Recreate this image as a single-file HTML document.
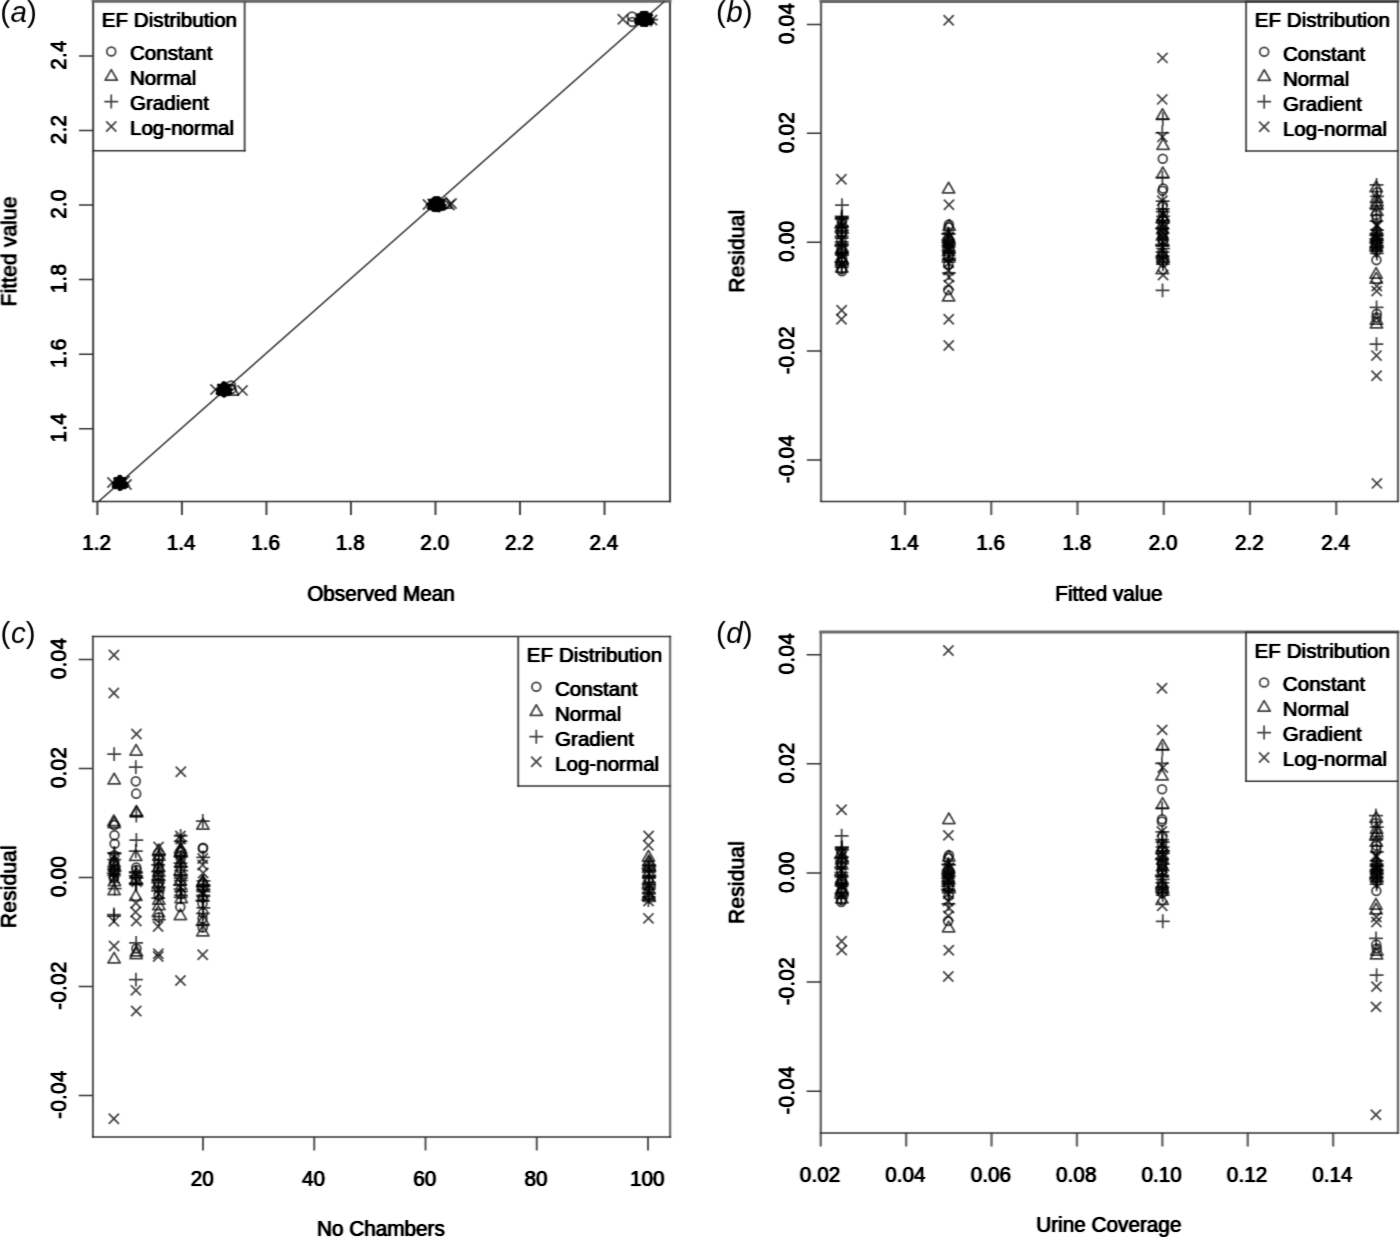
<!DOCTYPE html>
<html lang="en"><head><meta charset="utf-8"><title>Model diagnostics: fitted values and residuals</title>
<style>html,body{margin:0;padding:0;background:#fff}body{width:1400px;height:1237px;overflow:hidden}svg{display:block}text{font-family:'Liberation Sans', Arial, Helvetica, sans-serif;fill:#000;stroke:#000;stroke-width:0.2;stroke-linejoin:round}text.pl{stroke:none}</style></head><body>
<svg width="1400" height="1237" viewBox="0 0 1400 1237">
<rect width="1400" height="1237" fill="#fff"/>
<filter id="soft" filterUnits="userSpaceOnUse" x="-10" y="-10" width="1420" height="1257" color-interpolation-filters="sRGB"><feConvolveMatrix order="3 3" kernelMatrix="0.0228 0.0744 0.0228  0.1444 0.4712 0.1444  0.0228 0.0744 0.0228" divisor="1" edgeMode="none" preserveAlpha="false"/></filter>
<filter id="tx" filterUnits="userSpaceOnUse" x="-10" y="-10" width="1420" height="1257" color-interpolation-filters="sRGB"><feConvolveMatrix order="5 3" kernelMatrix="0.0028 0.0175 0.0324 0.0175 0.0028  0.0325 0.2050 0.3792 0.2050 0.0325  0.0028 0.0175 0.0324 0.0175 0.0028" divisor="1" edgeMode="none" preserveAlpha="false"/><feComponentTransfer><feFuncA type="linear" slope="1.45" intercept="0"/></feComponentTransfer></filter>
<filter id="lb" filterUnits="userSpaceOnUse" x="-10" y="-10" width="1420" height="1257" color-interpolation-filters="sRGB"><feConvolveMatrix order="3 3" kernelMatrix="0.0100 0.0800 0.0100  0.0800 0.6400 0.0800  0.0100 0.0800 0.0100" divisor="1" edgeMode="none" preserveAlpha="false"/></filter>
<g filter="url(#soft)">
<g id="panel-a">
<path fill="none" stroke="#404040" stroke-width="2.0" d="M670 0.6V502.2"/>
<path fill="none" stroke="#404040" stroke-width="2.0" d="M93.15 0.6V502.2M97.4 501.5V515M181.92 501.5V515M266.44 501.5V515M350.96 501.5V515M435.48 501.5V515M520 501.5V515M604.52 501.5V515"/>
<path fill="none" stroke="#666" stroke-width="3.2" d="M91.65 1.1H671.5"/>
<path fill="none" stroke="#323232" stroke-width="1.5" d="M92.15 501.5H671M93.15 428.7H78.95M93.15 354.14H78.95M93.15 279.58H78.95M93.15 205.02H78.95M93.15 130.46H78.95M93.15 55.9H78.95"/>
<clipPath id="ca"><rect x="93.15" y="1.3" width="576.85" height="500.2"/></clipPath>
<g clip-path="url(#ca)" fill="none" stroke="#000" stroke-width="1.75" stroke-linejoin="round" stroke-opacity="0.74">
<path d="M90 509.1L672 -5.3" stroke="#2e2e2e" stroke-opacity="1" stroke-width="1.45"/>
<circle cx="121.28" cy="483.56" r="4.41"/>
<path d="M120.88 475.93L127.02 486.56L114.74 486.56Z"/>
<path d="M112.21 483.28H126.07M119.14 476.35V490.21"/>
<path d="M115.02 477.86L125.21 488.05M115.02 488.05L125.21 477.86"/>
<circle cx="121.23" cy="483.96" r="4.41"/>
<path d="M121.16 476.53L127.3 487.16L115.02 487.16Z"/>
<path d="M112.6 482.55H126.46M119.53 475.62V489.48"/>
<path d="M115.17 478.01L125.36 488.21M115.17 488.21L125.36 478.01"/>
<circle cx="120.01" cy="483.18" r="4.41"/>
<path d="M120.73 476.44L126.87 487.07L114.59 487.07Z"/>
<path d="M114.3 483.33H128.16M121.23 476.4V490.26"/>
<path d="M116 477.99L126.19 488.18M116 488.18L126.19 477.99"/>
<circle cx="119.16" cy="483.13" r="4.41"/>
<path d="M120.03 475.95L126.17 486.58L113.89 486.58Z"/>
<path d="M112.47 484H126.33M119.4 477.07V490.93"/>
<path d="M115.13 478.36L125.32 488.55M115.13 488.55L125.32 478.36"/>
<circle cx="120.01" cy="483.18" r="4.41"/>
<path d="M118.72 475.84L124.86 486.47L112.58 486.47Z"/>
<path d="M112.95 483.5H126.8M119.88 476.57V490.43"/>
<path d="M115.22 477.88L125.41 488.08M115.22 488.08L125.41 477.88"/>
<circle cx="119.01" cy="483.13" r="4.41"/>
<path d="M120.81 476.18L126.95 486.81L114.67 486.81Z"/>
<path d="M112.91 483.1H126.77M119.84 476.18V490.03"/>
<path d="M115.48 478.79L125.67 488.98M115.48 488.98L125.67 478.79"/>
<circle cx="119.8" cy="483.09" r="4.41"/>
<path d="M120.12 476.48L126.25 487.11L113.98 487.11Z"/>
<path d="M112.43 483.5H126.29M119.36 476.57V490.43"/>
<path d="M114.48 477.58L124.67 487.77M114.48 487.77L124.67 477.58"/>
<circle cx="119.48" cy="483.47" r="4.41"/>
<path d="M120.66 476.13L126.8 486.76L114.53 486.76Z"/>
<path d="M113.24 483.09H127.1M120.17 476.16V490.02"/>
<path d="M114.37 478.11L124.56 488.3M114.37 488.3L124.56 478.11"/>
<circle cx="120.05" cy="482.97" r="4.41"/>
<path d="M119.39 476.17L125.52 486.8L113.25 486.8Z"/>
<path d="M113.37 483.09H127.22M120.3 476.16V490.02"/>
<path d="M114.12 477.77L124.31 487.96M114.12 487.96L124.31 477.77"/>
<circle cx="120.73" cy="482.96" r="4.41"/>
<path d="M120.23 476.05L126.37 486.68L114.09 486.68Z"/>
<path d="M111.79 482.76H125.65M118.72 475.83V489.69"/>
<path d="M115.07 478.13L125.26 488.32M115.07 488.32L125.26 478.13"/>
<circle cx="119.32" cy="482.99" r="4.41"/>
<path d="M119.87 475.9L126.01 486.53L113.74 486.53Z"/>
<path d="M111.87 483.37H125.73M118.8 476.44V490.3"/>
<path d="M114.75 478.26L124.94 488.45M114.75 488.45L124.94 478.26"/>
<circle cx="120.42" cy="483.3" r="4.41"/>
<path d="M120.42 476.59L126.56 487.22L114.29 487.22Z"/>
<path d="M112.18 483.14H126.04M119.11 476.21V490.07"/>
<path d="M114.42 478.62L124.61 488.82M114.42 488.82L124.61 478.62"/>
<circle cx="121.23" cy="482.34" r="4.41"/>
<path d="M119.64 476.17L125.78 486.8L113.5 486.8Z"/>
<path d="M113.36 483.27H127.22M120.29 476.34V490.2"/>
<path d="M113.62 478.45L123.82 488.65M113.62 488.65L123.82 478.45"/>
<circle cx="118.75" cy="482.98" r="4.41"/>
<path d="M119 476.52L125.14 487.15L112.86 487.15Z"/>
<path d="M112.55 483.79H126.41M119.48 476.86V490.72"/>
<path d="M115.97 478.39L126.16 488.58M115.97 488.58L126.16 478.39"/>
<circle cx="120.33" cy="483.61" r="4.41"/>
<path d="M119.33 476.22L125.47 486.85L113.2 486.85Z"/>
<path d="M113 482.8H126.86M119.93 475.87V489.73"/>
<path d="M114.5 477.91L124.69 488.1M114.5 488.1L124.69 477.91"/>
<circle cx="119.43" cy="482.95" r="4.41"/>
<path d="M119.37 476.39L125.5 487.02L113.23 487.02Z"/>
<path d="M113.16 483.08H127.02M120.09 476.15V490.01"/>
<path d="M115 478.22L125.19 488.41M115 488.41L125.19 478.22"/>
<circle cx="119.4" cy="483" r="4.41"/>
<path d="M118.99 476.86L125.13 487.49L112.85 487.49Z"/>
<path d="M114.35 483.36H128.21M121.28 476.43V490.29"/>
<path d="M114.23 477.37L124.42 487.56M114.23 487.56L124.42 477.37"/>
<circle cx="119.62" cy="483.74" r="4.41"/>
<path d="M118.81 475.76L124.94 486.39L112.67 486.39Z"/>
<path d="M113.35 483.16H127.21M120.28 476.23V490.09"/>
<path d="M115.08 477.96L125.27 488.15M115.08 488.15L125.27 477.96"/>
<circle cx="119.81" cy="482.82" r="4.41"/>
<path d="M120.23 475.5L126.37 486.13L114.1 486.13Z"/>
<path d="M114.33 482.87H128.19M121.26 475.94V489.8"/>
<path d="M115.53 478.41L125.73 488.6M115.53 488.6L125.73 478.41"/>
<circle cx="121.28" cy="483.24" r="4.41"/>
<path d="M119.6 476.62L125.73 487.25L113.46 487.25Z"/>
<path d="M113.41 483.41H127.27M120.34 476.48V490.34"/>
<path d="M115.48 477.81L125.67 488M115.48 488L125.67 477.81"/>
<circle cx="120.23" cy="482.74" r="4.41"/>
<path d="M119.2 476.09L125.34 486.72L113.07 486.72Z"/>
<path d="M113.51 483.5H127.37M120.44 476.57V490.43"/>
<path d="M114.36 477.78L124.55 487.97M114.36 487.97L124.55 477.78"/>
<circle cx="119.54" cy="483.14" r="4.41"/>
<path d="M119.66 476.19L125.8 486.82L113.52 486.82Z"/>
<path d="M114.08 483.41H127.94M121.01 476.49V490.34"/>
<path d="M115.12 478.46L125.31 488.65M115.12 488.65L125.31 478.46"/>
<circle cx="121.28" cy="483.13" r="4.41"/>
<path d="M120.2 476.28L126.34 486.91L114.06 486.91Z"/>
<path d="M111.79 483.38H125.65M118.72 476.45V490.31"/>
<path d="M115 478.54L125.19 488.73M115 488.73L125.19 478.54"/>
<circle cx="120.2" cy="482.62" r="4.41"/>
<path d="M120.12 475.83L126.26 486.46L113.99 486.46Z"/>
<path d="M112.95 483.47H126.81M119.88 476.54V490.4"/>
<path d="M114.89 478.38L125.08 488.57M114.89 488.57L125.08 478.38"/>
<circle cx="119.52" cy="483.28" r="4.41"/>
<path d="M120.06 476.4L126.2 487.03L113.92 487.03Z"/>
<path d="M113.5 483.08H127.36M120.43 476.15V490.01"/>
<path d="M115.46 478.21L125.66 488.4M115.46 488.4L125.66 478.21"/>
<circle cx="120.02" cy="483.63" r="4.41"/>
<path d="M119.78 475.98L125.92 486.61L113.65 486.61Z"/>
<path d="M112.86 483.22H126.72M119.79 476.29V490.15"/>
<path d="M116.18 478.12L126.38 488.32M116.18 488.32L126.38 478.12"/>
<circle cx="120.1" cy="483.58" r="4.41"/>
<path d="M118.85 476.62L124.99 487.25L112.71 487.25Z"/>
<path d="M113.1 483.31H126.96M120.03 476.38V490.24"/>
<path d="M113.69 477.72L123.88 487.91M113.69 487.91L123.88 477.72"/>
<circle cx="120.11" cy="483.33" r="4.41"/>
<path d="M119.5 476.1L125.64 486.73L113.36 486.73Z"/>
<path d="M107.4 477.4L117.6 487.6M107.4 487.6L117.6 477.4"/>
<path d="M121.4 479.4L131.6 489.6M121.4 489.6L131.6 479.4"/>
<path d="M119.4 475.9L129.6 486.1M119.4 486.1L129.6 475.9"/>
<circle cx="222.62" cy="389.44" r="4.41"/>
<path d="M223.94 382.68L230.08 393.31L217.81 393.31Z"/>
<path d="M216.05 389.38H229.91M222.98 382.45V396.31"/>
<path d="M218.74 384.78L228.93 394.97M218.74 394.97L228.93 384.78"/>
<circle cx="223.84" cy="389.89" r="4.41"/>
<path d="M224.28 382.71L230.42 393.34L218.14 393.34Z"/>
<path d="M216.82 389.03H230.68M223.75 382.1V395.96"/>
<path d="M219.64 384.11L229.83 394.3M219.64 394.3L229.83 384.11"/>
<circle cx="223.19" cy="389.98" r="4.41"/>
<path d="M223.71 382.62L229.85 393.25L217.57 393.25Z"/>
<path d="M218.22 389.88H232.08M225.15 382.95V396.81"/>
<path d="M217.89 384.74L228.08 394.93M217.89 394.93L228.08 384.74"/>
<circle cx="224.42" cy="389.3" r="4.41"/>
<path d="M224.7 383.07L230.83 393.7L218.56 393.7Z"/>
<path d="M216.49 389.51H230.35M223.42 382.58V396.44"/>
<path d="M218.51 385.74L228.7 395.93M218.51 395.93L228.7 385.74"/>
<circle cx="223.49" cy="389.48" r="4.41"/>
<path d="M225.57 382.9L231.71 393.53L219.43 393.53Z"/>
<path d="M217.84 389.56H231.7M224.77 382.63V396.49"/>
<path d="M220.5 384.77L230.7 394.96M220.5 394.96L230.7 384.77"/>
<circle cx="224.46" cy="389.32" r="4.41"/>
<path d="M223.21 382.94L229.35 393.57L217.07 393.57Z"/>
<path d="M218.07 389.67H231.93M225 382.74V396.6"/>
<path d="M219.18 384.85L229.37 395.04M219.18 395.04L229.37 384.85"/>
<circle cx="225.11" cy="390.05" r="4.41"/>
<path d="M222.86 383.17L229 393.8L216.73 393.8Z"/>
<path d="M217.29 389.88H231.15M224.22 382.95V396.81"/>
<path d="M220.04 385.2L230.23 395.39M220.04 395.39L230.23 385.2"/>
<circle cx="222.96" cy="390.08" r="4.41"/>
<path d="M225.47 382.46L231.6 393.09L219.33 393.09Z"/>
<path d="M217.51 390.09H231.37M224.44 383.16V397.01"/>
<path d="M219.23 384.89L229.42 395.08M219.23 395.08L229.42 384.89"/>
<circle cx="224.9" cy="389.94" r="4.41"/>
<path d="M224.04 382.09L230.18 392.72L217.9 392.72Z"/>
<path d="M217.36 389.52H231.22M224.29 382.59V396.45"/>
<path d="M219.06 384.61L229.25 394.81M219.06 394.81L229.25 384.61"/>
<circle cx="224.74" cy="389.64" r="4.41"/>
<path d="M222.89 382.4L229.03 393.03L216.75 393.03Z"/>
<path d="M218.42 390.09H232.28M225.35 383.16V397.01"/>
<path d="M218.11 384.02L228.3 394.21M218.11 394.21L228.3 384.02"/>
<circle cx="222.75" cy="389.27" r="4.41"/>
<path d="M223 382.38L229.14 393.01L216.86 393.01Z"/>
<path d="M217.45 390.17H231.31M224.38 383.24V397.1"/>
<path d="M218.64 384.66L228.83 394.86M218.64 394.86L228.83 384.66"/>
<circle cx="224.54" cy="389.72" r="4.41"/>
<path d="M223.64 382.87L229.78 393.5L217.5 393.5Z"/>
<path d="M218.67 389.68H232.53M225.6 382.75V396.61"/>
<path d="M219.64 385.38L229.83 395.58M219.64 395.58L229.83 385.38"/>
<circle cx="224.82" cy="389.36" r="4.41"/>
<path d="M223.56 382.44L229.7 393.07L217.43 393.07Z"/>
<path d="M216.22 390.05H230.08M223.15 383.12V396.98"/>
<path d="M219.92 384.21L230.11 394.4M219.92 394.4L230.11 384.21"/>
<circle cx="223.49" cy="389.56" r="4.41"/>
<path d="M224 383.06L230.14 393.69L217.87 393.69Z"/>
<path d="M216.27 390.11H230.13M223.2 383.18V397.04"/>
<path d="M218.94 384.73L229.13 394.92M218.94 394.92L229.13 384.73"/>
<circle cx="225.11" cy="389.77" r="4.41"/>
<path d="M222.69 382.87L228.83 393.5L216.55 393.5Z"/>
<path d="M217.87 389.2H231.73M224.8 382.27V396.13"/>
<path d="M219.28 384.38L229.47 394.57M219.28 394.57L229.47 384.38"/>
<circle cx="224.86" cy="389.94" r="4.41"/>
<path d="M222.81 383.19L228.94 393.82L216.67 393.82Z"/>
<path d="M215.61 389.79H229.47M222.54 382.86V396.72"/>
<path d="M219.42 384.75L229.61 394.94M219.42 394.94L229.61 384.75"/>
<circle cx="224.77" cy="389.66" r="4.41"/>
<path d="M223.92 382.57L230.06 393.2L217.79 393.2Z"/>
<path d="M217.1 389.06H230.96M224.03 382.13V395.99"/>
<path d="M217.9 384.2L228.09 394.39M217.9 394.39L228.09 384.2"/>
<circle cx="224.37" cy="389.82" r="4.41"/>
<path d="M222.84 382.36L228.98 392.99L216.7 392.99Z"/>
<path d="M217.48 389.92H231.34M224.41 382.99V396.85"/>
<path d="M219.52 384.51L229.72 394.71M219.52 394.71L229.72 384.51"/>
<circle cx="224.67" cy="389.22" r="4.41"/>
<path d="M223.38 382.2L229.51 392.83L217.24 392.83Z"/>
<path d="M217.41 390.45H231.27M224.34 383.52V397.38"/>
<path d="M218.32 384.53L228.51 394.73M218.32 394.73L228.51 384.53"/>
<circle cx="223.38" cy="390.23" r="4.41"/>
<path d="M224.91 382.5L231.05 393.13L218.78 393.13Z"/>
<path d="M217 390.7H230.86M223.93 383.77V397.63"/>
<path d="M217.58 384.76L227.77 394.95M217.58 394.95L227.77 384.76"/>
<circle cx="223.45" cy="389.63" r="4.41"/>
<path d="M223.54 382.88L229.67 393.51L217.4 393.51Z"/>
<path d="M215.9 390.08H229.76M222.83 383.15V397.01"/>
<path d="M218.75 385.01L228.94 395.2M218.75 395.2L228.94 385.01"/>
<circle cx="222.73" cy="390.23" r="4.41"/>
<path d="M223.85 383.31L229.98 393.94L217.71 393.94Z"/>
<path d="M218.67 390.01H232.53M225.6 383.08V396.94"/>
<path d="M219.98 384.62L230.17 394.81M219.98 394.81L230.17 384.62"/>
<circle cx="222.49" cy="389.73" r="4.41"/>
<path d="M224.61 382.55L230.74 393.18L218.47 393.18Z"/>
<path d="M215.47 389.65H229.33M222.4 382.72V396.58"/>
<path d="M218.83 384.37L229.02 394.56M218.83 394.56L229.02 384.37"/>
<circle cx="223.32" cy="390.04" r="4.41"/>
<path d="M224.54 382.96L230.68 393.59L218.41 393.59Z"/>
<path d="M217.7 389.92H231.56M224.63 382.99V396.85"/>
<path d="M217.3 384.12L227.5 394.31M217.3 394.31L227.5 384.12"/>
<circle cx="223.65" cy="390.2" r="4.41"/>
<path d="M223.04 383.56L229.18 394.19L216.9 394.19Z"/>
<path d="M218.65 389.22H232.5M225.58 382.29V396.14"/>
<path d="M220.19 384.36L230.38 394.55M220.19 394.55L230.38 384.36"/>
<circle cx="223.99" cy="389.55" r="4.41"/>
<path d="M223.64 383.19L229.78 393.82L217.51 393.82Z"/>
<path d="M216.24 389.96H230.1M223.17 383.04V396.89"/>
<path d="M220.01 384.82L230.2 395.02M220.01 395.02L230.2 384.82"/>
<circle cx="223.77" cy="389.73" r="4.41"/>
<path d="M225.22 382.87L231.36 393.5L219.08 393.5Z"/>
<path d="M216.67 390.2H230.53M223.6 383.27V397.13"/>
<path d="M217.9 384.63L228.09 394.82M217.9 394.82L228.09 384.63"/>
<circle cx="223.83" cy="389.98" r="4.41"/>
<path d="M222.75 383.2L228.88 393.83L216.61 393.83Z"/>
<path d="M237.4 385.3L247.6 395.5M237.4 395.5L247.6 385.3"/>
<path d="M210.4 384.4L220.6 394.6M210.4 394.6L220.6 384.4"/>
<path d="M232.5 384.41L238.64 395.04L226.36 395.04Z"/>
<circle cx="231" cy="385.5" r="4.41"/>
<circle cx="231.5" cy="389" r="4.41"/>
<circle cx="436.48" cy="204.75" r="4.41"/>
<path d="M437.3 197.09L443.43 207.72L431.16 207.72Z"/>
<path d="M428.68 204.74H442.54M435.61 197.81V211.67"/>
<path d="M433.02 200.01L443.21 210.2M433.02 210.2L443.21 200.01"/>
<circle cx="435.85" cy="205.33" r="4.41"/>
<path d="M436.97 197.59L443.1 208.22L430.83 208.22Z"/>
<path d="M431.19 204.03H445.05M438.12 197.1V210.96"/>
<path d="M429.03 199.35L439.22 209.54M429.03 209.54L439.22 199.35"/>
<circle cx="434.36" cy="204.45" r="4.41"/>
<path d="M435.1 197.62L441.24 208.25L428.96 208.25Z"/>
<path d="M430.08 204.7H443.94M437.01 197.77V211.63"/>
<path d="M432.47 199.64L442.66 209.83M432.47 209.83L442.66 199.64"/>
<circle cx="438.68" cy="205.35" r="4.41"/>
<path d="M438.48 197.91L444.61 208.54L432.34 208.54Z"/>
<path d="M428.64 204.51H442.5M435.57 197.58V211.44"/>
<path d="M429.14 199.82L439.33 210.02M429.14 210.02L439.33 199.82"/>
<circle cx="434.5" cy="204.31" r="4.41"/>
<path d="M433.93 197.86L440.06 208.49L427.79 208.49Z"/>
<path d="M428.65 204.69H442.5M435.58 197.76V211.62"/>
<path d="M427.6 198.81L437.8 209M427.6 209L437.8 198.81"/>
<circle cx="435.93" cy="204.31" r="4.41"/>
<path d="M434.42 197.53L440.55 208.16L428.28 208.16Z"/>
<path d="M425.77 205H439.63M432.7 198.07V211.93"/>
<path d="M433.76 199.85L443.95 210.04M433.76 210.04L443.95 199.85"/>
<circle cx="439.35" cy="205.75" r="4.41"/>
<path d="M436.09 198.12L442.23 208.75L429.96 208.75Z"/>
<path d="M432.38 205.22H446.24M439.31 198.29V212.15"/>
<path d="M434.8 199.22L445 209.42M434.8 209.42L445 199.22"/>
<circle cx="436.25" cy="204.81" r="4.41"/>
<path d="M434.32 197.22L440.46 207.85L428.18 207.85Z"/>
<path d="M427.62 203.98H441.48M434.55 197.05V210.91"/>
<path d="M432.85 199.55L443.04 209.74M432.85 209.74L443.04 199.55"/>
<circle cx="439.9" cy="204.38" r="4.41"/>
<path d="M438.35 197.83L444.48 208.46L432.21 208.46Z"/>
<path d="M431.47 205.36H445.32M438.39 198.43V212.29"/>
<path d="M431.94 199.41L442.13 209.6M431.94 209.6L442.13 199.41"/>
<circle cx="438.7" cy="205.35" r="4.41"/>
<path d="M437.01 197.94L443.15 208.57L430.87 208.57Z"/>
<path d="M427.8 204.5H441.66M434.73 197.57V211.43"/>
<path d="M433.9 198.97L444.09 209.16M433.9 209.16L444.09 198.97"/>
<circle cx="439.9" cy="204.62" r="4.41"/>
<path d="M434.1 197.52L440.24 208.15L427.96 208.15Z"/>
<path d="M429.15 204.69H443.01M436.08 197.76V211.62"/>
<path d="M434.8 199.75L445 209.94M434.8 209.94L445 199.75"/>
<circle cx="436.72" cy="205.42" r="4.41"/>
<path d="M436.79 197.28L442.92 207.91L430.65 207.91Z"/>
<path d="M427.15 204.47H441.01M434.08 197.54V211.4"/>
<path d="M431.45 199.68L441.64 209.88M431.45 209.88L441.64 199.68"/>
<circle cx="438.43" cy="205.02" r="4.41"/>
<path d="M439.2 198.43L445.33 209.06L433.06 209.06Z"/>
<path d="M429.22 204.62H443.08M436.15 197.69V211.55"/>
<path d="M433.06 199.99L443.25 210.18M433.06 210.18L443.25 199.99"/>
<circle cx="437.02" cy="204.73" r="4.41"/>
<path d="M439.9 197.81L446.04 208.44L433.76 208.44Z"/>
<path d="M429.47 204.47H443.33M436.4 197.54V211.4"/>
<path d="M433.58 199.48L443.77 209.67M433.58 209.67L443.77 199.48"/>
<circle cx="434.19" cy="204.08" r="4.41"/>
<path d="M436.41 197.06L442.55 207.69L430.28 207.69Z"/>
<path d="M428.25 204.88H442.11M435.18 197.95V211.81"/>
<path d="M431.36 199.69L441.55 209.88M431.36 209.88L441.55 199.69"/>
<circle cx="439.9" cy="204.46" r="4.41"/>
<path d="M436.32 197.46L442.46 208.09L430.18 208.09Z"/>
<path d="M429.4 204.2H443.25M436.33 197.28V211.13"/>
<path d="M430.15 199.63L440.34 209.82M430.15 209.82L440.34 199.63"/>
<circle cx="437.05" cy="204.21" r="4.41"/>
<path d="M435.8 197.92L441.94 208.55L429.66 208.55Z"/>
<path d="M429.24 205.02H443.1M436.17 198.1V211.95"/>
<path d="M431.77 199.56L441.97 209.75M431.77 209.75L441.97 199.56"/>
<circle cx="436.57" cy="203.93" r="4.41"/>
<path d="M436.63 197.14L442.76 207.77L430.49 207.77Z"/>
<path d="M427.74 204.74H441.6M434.67 197.81V211.67"/>
<path d="M431.11 198.99L441.3 209.18M431.11 209.18L441.3 198.99"/>
<circle cx="438.67" cy="204.78" r="4.41"/>
<path d="M438.13 197.84L444.27 208.47L432 208.47Z"/>
<path d="M431.84 204.83H445.7M438.77 197.91V211.76"/>
<path d="M430.37 198.96L440.56 209.16M430.37 209.16L440.56 198.96"/>
<circle cx="434.83" cy="204.57" r="4.41"/>
<path d="M434.06 197.78L440.2 208.41L427.92 208.41Z"/>
<path d="M428.58 205.27H442.43M435.51 198.34V212.2"/>
<path d="M432.95 199.71L443.14 209.9M432.95 209.9L443.14 199.71"/>
<circle cx="438.84" cy="205.01" r="4.41"/>
<path d="M438.68 196.8L444.82 207.43L432.55 207.43Z"/>
<path d="M425.77 204.22H439.63M432.7 197.29V211.15"/>
<path d="M428.59 199.56L438.78 209.75M428.59 209.75L438.78 199.56"/>
<circle cx="438.29" cy="205.24" r="4.41"/>
<path d="M437.64 197.52L443.78 208.15L431.51 208.15Z"/>
<path d="M431.76 205.41H445.62M438.69 198.48V212.34"/>
<path d="M431.45 199.2L441.64 209.39M431.45 209.39L441.64 199.2"/>
<circle cx="438.86" cy="204.67" r="4.41"/>
<path d="M437.71 197.8L443.85 208.43L431.57 208.43Z"/>
<path d="M432.97 205.15H446.83M439.9 198.22V212.08"/>
<path d="M433.78 199.24L443.97 209.43M433.78 209.43L443.97 199.24"/>
<circle cx="433.76" cy="204.94" r="4.41"/>
<path d="M435.12 197.83L441.26 208.46L428.98 208.46Z"/>
<path d="M427.11 204.89H440.97M434.04 197.96V211.82"/>
<path d="M433.91 200.48L444.1 210.67M433.91 210.67L444.1 200.48"/>
<circle cx="433.03" cy="204.08" r="4.41"/>
<path d="M438.18 197.95L444.31 208.58L432.04 208.58Z"/>
<path d="M428.35 204.26H442.21M435.28 197.33V211.19"/>
<path d="M433.78 199.7L443.98 209.89M433.78 209.89L443.98 199.7"/>
<circle cx="432.7" cy="204.6" r="4.41"/>
<path d="M433.88 197.75L440.02 208.38L427.74 208.38Z"/>
<path d="M428.38 205.05H442.24M435.31 198.12V211.98"/>
<path d="M430.63 199.35L440.82 209.55M430.63 209.55L440.82 199.35"/>
<circle cx="436.51" cy="205.01" r="4.41"/>
<path d="M434.37 197.19L440.51 207.82L428.23 207.82Z"/>
<path d="M427.79 204.69H441.65M434.72 197.76V211.62"/>
<path d="M431.32 198.95L441.51 209.14M431.32 209.14L441.51 198.95"/>
<circle cx="433.93" cy="204.32" r="4.41"/>
<path d="M439.47 197.52L445.6 208.15L433.33 208.15Z"/>
<path d="M427.89 204.5H441.75M434.82 197.58V211.43"/>
<path d="M431.64 200.47L441.83 210.67M431.64 210.67L441.83 200.47"/>
<circle cx="436.03" cy="205.57" r="4.41"/>
<path d="M437.5 197.61L443.64 208.24L431.36 208.24Z"/>
<path d="M428.65 204.51H442.51M435.58 197.58V211.44"/>
<path d="M431.86 199.77L442.06 209.96M431.86 209.96L442.06 199.77"/>
<circle cx="435.76" cy="204.98" r="4.41"/>
<path d="M436.16 197.78L442.29 208.41L430.02 208.41Z"/>
<path d="M430.75 204.55H444.61M437.68 197.62V211.48"/>
<path d="M432.88 199.35L443.07 209.54M432.88 209.54L443.07 199.35"/>
<circle cx="439.9" cy="204.75" r="4.41"/>
<path d="M434.99 197.71L441.13 208.34L428.86 208.34Z"/>
<path d="M431.03 204.66H444.89M437.96 197.74V211.59"/>
<path d="M432.73 199.64L442.92 209.83M432.73 209.83L442.92 199.64"/>
<circle cx="436.28" cy="204.66" r="4.41"/>
<path d="M436.49 198.3L442.63 208.93L430.35 208.93Z"/>
<path d="M428.57 204.26H442.43M435.5 197.33V211.19"/>
<path d="M428.88 199.06L439.07 209.26M428.88 209.26L439.07 199.06"/>
<circle cx="434.87" cy="204.26" r="4.41"/>
<path d="M438.36 197.26L444.5 207.89L432.22 207.89Z"/>
<path d="M428.12 204.57H441.98M435.05 197.64V211.5"/>
<path d="M431.63 199.77L441.83 209.96M431.63 209.96L441.83 199.77"/>
<circle cx="434.89" cy="204.81" r="4.41"/>
<path d="M435.01 196.91L441.14 207.54L428.87 207.54Z"/>
<path d="M429.47 205.05H443.33M436.4 198.12V211.98"/>
<path d="M430.93 199.41L441.12 209.6M430.93 209.6L441.12 199.41"/>
<circle cx="437.64" cy="204.37" r="4.41"/>
<path d="M439.9 197.7L446.04 208.33L433.76 208.33Z"/>
<path d="M426.45 204.64H440.31M433.38 197.71V211.57"/>
<path d="M434.17 199.07L444.36 209.26M434.17 209.26L444.36 199.07"/>
<path d="M444.4 199.9L454.6 210.1M444.4 210.1L454.6 199.9"/>
<path d="M446.4 198.4L456.6 208.6M446.4 208.6L456.6 198.4"/>
<path d="M422.9 199.4L433.1 209.6M422.9 209.6L433.1 199.4"/>
<path d="M446 197.41L452.14 208.04L439.86 208.04Z"/>
<circle cx="644.18" cy="19.35" r="4.41"/>
<path d="M646.24 11.55L652.37 22.18L640.1 22.18Z"/>
<path d="M638.44 19.46H652.3M645.37 12.54V26.39"/>
<path d="M639.78 14.75L649.97 24.94M639.78 24.94L649.97 14.75"/>
<circle cx="645.45" cy="19.23" r="4.41"/>
<path d="M642.28 12.77L648.42 23.4L636.14 23.4Z"/>
<path d="M636.2 19.36H650.06M643.13 12.43V26.29"/>
<path d="M638.88 14.21L649.08 24.41M638.88 24.41L649.08 14.21"/>
<circle cx="644.76" cy="18.98" r="4.41"/>
<path d="M642.67 12.69L648.8 23.32L636.53 23.32Z"/>
<path d="M634.13 19.58H647.99M641.06 12.66V26.51"/>
<path d="M640.08 14.59L650.27 24.78M640.08 24.78L650.27 14.59"/>
<circle cx="646.95" cy="19.07" r="4.41"/>
<path d="M642.37 11.89L648.5 22.52L636.23 22.52Z"/>
<path d="M637.34 19.64H651.2M644.27 12.71V26.57"/>
<path d="M639.86 14.26L650.06 24.45M639.86 24.45L650.06 14.26"/>
<circle cx="646.48" cy="19.05" r="4.41"/>
<path d="M643.22 11.8L649.36 22.43L637.08 22.43Z"/>
<path d="M638.55 19.49H652.41M645.48 12.56V26.42"/>
<path d="M635.96 14.71L646.16 24.9M635.96 24.9L646.16 14.71"/>
<circle cx="647.54" cy="19.1" r="4.41"/>
<path d="M646.24 12.12L652.38 22.75L640.11 22.75Z"/>
<path d="M639.49 19.99H653.35M646.42 13.06V26.92"/>
<path d="M642.13 14.47L652.32 24.66M642.13 24.66L652.32 14.47"/>
<circle cx="645.2" cy="19.77" r="4.41"/>
<path d="M643.7 11.58L649.83 22.21L637.56 22.21Z"/>
<path d="M638.99 19.71H652.85M645.92 12.78V26.64"/>
<path d="M640.76 13.66L650.95 23.85M640.76 23.85L650.95 13.66"/>
<circle cx="641.06" cy="19.9" r="4.41"/>
<path d="M644.46 11.71L650.6 22.34L638.32 22.34Z"/>
<path d="M637.75 18.91H651.61M644.68 11.98V25.84"/>
<path d="M639.48 13.96L649.67 24.15M639.48 24.15L649.67 13.96"/>
<circle cx="643.52" cy="18.79" r="4.41"/>
<path d="M647 12.16L653.13 22.79L640.86 22.79Z"/>
<path d="M634.14 19.37H647.99M641.06 12.44V26.3"/>
<path d="M639.72 13.89L649.91 24.08M639.72 24.08L649.91 13.89"/>
<circle cx="643.41" cy="19.05" r="4.41"/>
<path d="M641.8 12.26L647.93 22.89L635.66 22.89Z"/>
<path d="M640.61 19.68H654.47M647.54 12.75V26.61"/>
<path d="M640.08 14.45L650.27 24.64M640.08 24.64L650.27 14.45"/>
<circle cx="643.73" cy="19.4" r="4.41"/>
<path d="M642.83 12.09L648.97 22.72L636.7 22.72Z"/>
<path d="M639.44 19.15H653.3M646.37 12.22V26.08"/>
<path d="M637.86 14.59L648.06 24.78M637.86 24.78L648.06 14.59"/>
<circle cx="643.62" cy="19.1" r="4.41"/>
<path d="M645.65 12.34L651.79 22.97L639.51 22.97Z"/>
<path d="M635.53 19.01H649.39M642.46 12.08V25.94"/>
<path d="M639.91 14.03L650.1 24.22M639.91 24.22L650.1 14.03"/>
<circle cx="641.29" cy="19.48" r="4.41"/>
<path d="M644.77 12.56L650.91 23.19L638.63 23.19Z"/>
<path d="M634.96 19.2H648.82M641.89 12.27V26.13"/>
<path d="M637.33 13.31L647.52 23.51M637.33 23.51L647.52 13.31"/>
<circle cx="647.54" cy="19.71" r="4.41"/>
<path d="M641.86 12.06L647.99 22.69L635.72 22.69Z"/>
<path d="M636.76 19.69H650.62M643.69 12.76V26.62"/>
<path d="M639.37 14.34L649.56 24.53M639.37 24.53L649.56 14.34"/>
<circle cx="645.73" cy="18.86" r="4.41"/>
<path d="M644.97 12.33L651.11 22.96L638.83 22.96Z"/>
<path d="M634.43 19.62H648.28M641.35 12.69V26.55"/>
<path d="M636.94 14.28L647.13 24.47M636.94 24.47L647.13 14.28"/>
<circle cx="641.06" cy="19.37" r="4.41"/>
<path d="M643.88 11.96L650.02 22.59L637.75 22.59Z"/>
<path d="M638.62 19.71H652.47M645.54 12.78V26.64"/>
<path d="M639.1 14L649.29 24.19M639.1 24.19L649.29 14"/>
<circle cx="643.11" cy="19.79" r="4.41"/>
<path d="M642.79 12.22L648.93 22.85L636.65 22.85Z"/>
<path d="M635.52 19.38H649.38M642.45 12.45V26.31"/>
<path d="M641.91 14.2L652.1 24.4M641.91 24.4L652.1 14.2"/>
<circle cx="645.02" cy="19.6" r="4.41"/>
<path d="M644.08 12.16L650.22 22.79L637.94 22.79Z"/>
<path d="M640.19 19.46H654.05M647.12 12.53V26.39"/>
<path d="M642.44 14.2L652.64 24.39M642.44 24.39L652.64 14.2"/>
<circle cx="646.02" cy="19.52" r="4.41"/>
<path d="M644.35 12.02L650.48 22.65L638.21 22.65Z"/>
<path d="M637.8 19.65H651.66M644.73 12.72V26.58"/>
<path d="M639.76 14.32L649.96 24.51M639.76 24.51L649.96 14.32"/>
<circle cx="643.41" cy="19.03" r="4.41"/>
<path d="M644.71 11.78L650.85 22.41L638.57 22.41Z"/>
<path d="M638.62 19.15H652.48M645.55 12.22V26.08"/>
<path d="M638.46 14.43L648.65 24.62M638.46 24.62L648.65 14.43"/>
<circle cx="645.71" cy="19.39" r="4.41"/>
<path d="M643.01 12.54L649.15 23.17L636.87 23.17Z"/>
<path d="M634.77 20.17H648.62M641.7 13.24V27.1"/>
<path d="M640.36 13.97L650.55 24.17M640.36 24.17L650.55 13.97"/>
<circle cx="644.9" cy="19.69" r="4.41"/>
<path d="M645.17 12.37L651.31 23L639.03 23Z"/>
<path d="M637.15 19.12H651.01M644.08 12.19V26.05"/>
<path d="M639.96 14.18L650.16 24.37M639.96 24.37L650.16 14.18"/>
<circle cx="646.12" cy="19.29" r="4.41"/>
<path d="M642.57 12.09L648.71 22.72L636.43 22.72Z"/>
<path d="M635.75 19.14H649.61M642.68 12.21V26.07"/>
<path d="M639.63 14.27L649.83 24.46M639.63 24.46L649.83 14.27"/>
<circle cx="645.19" cy="18.94" r="4.41"/>
<path d="M644.36 12.09L650.5 22.72L638.23 22.72Z"/>
<path d="M635.12 19.3H648.97M642.05 12.37V26.23"/>
<path d="M638.48 14.34L648.67 24.53M638.48 24.53L648.67 14.34"/>
<circle cx="643.03" cy="18.83" r="4.41"/>
<path d="M644.83 12.11L650.97 22.74L638.7 22.74Z"/>
<path d="M639.84 19.42H653.7M646.77 12.49V26.35"/>
<path d="M638.42 14.05L648.61 24.24M638.42 24.24L648.61 14.05"/>
<circle cx="642.42" cy="18.7" r="4.41"/>
<path d="M643.57 12.29L649.71 22.92L637.43 22.92Z"/>
<path d="M637.64 19.28H651.5M644.57 12.35V26.21"/>
<path d="M639.89 14.07L650.08 24.26M639.89 24.26L650.08 14.07"/>
<circle cx="643.27" cy="19.81" r="4.41"/>
<path d="M645.05 12.04L651.18 22.67L638.91 22.67Z"/>
<path d="M637.73 19.32H651.59M644.66 12.39V26.24"/>
<path d="M637.04 14.02L647.23 24.21M637.04 24.21L647.23 14.02"/>
<circle cx="646.11" cy="19.09" r="4.41"/>
<path d="M641.06 12.12L647.2 22.75L634.92 22.75Z"/>
<path d="M637.65 18.94H651.51M644.58 12.01V25.87"/>
<path d="M638.59 13.87L648.78 24.06M638.59 24.06L648.78 13.87"/>
<circle cx="646.78" cy="19.52" r="4.41"/>
<path d="M641.06 11.6L647.2 22.23L634.92 22.23Z"/>
<path d="M636.81 19.13H650.67M643.74 12.2V26.06"/>
<path d="M639.49 13.77L649.68 23.96M639.49 23.96L649.68 13.77"/>
<circle cx="646.06" cy="19.5" r="4.41"/>
<path d="M646.3 11.91L652.44 22.54L640.17 22.54Z"/>
<path d="M637.15 19.32H651.01M644.08 12.39V26.25"/>
<path d="M636.64 13.3L646.83 23.5M636.64 23.5L646.83 13.3"/>
<circle cx="645.1" cy="19.11" r="4.41"/>
<path d="M645.77 12.49L651.91 23.12L639.63 23.12Z"/>
<path d="M637 19.75H650.86M643.93 12.82V26.68"/>
<path d="M636.37 14.38L646.56 24.57M636.37 24.57L646.56 14.38"/>
<circle cx="645.82" cy="19.14" r="4.41"/>
<path d="M644.25 11.67L650.39 22.3L638.11 22.3Z"/>
<path d="M639.24 19.77H653.09M646.17 12.84V26.7"/>
<path d="M638.59 14.63L648.78 24.83M638.59 24.83L648.78 14.63"/>
<circle cx="641.62" cy="19.31" r="4.41"/>
<path d="M647.37 11.72L653.51 22.35L641.23 22.35Z"/>
<path d="M637.8 19.33H651.66M644.73 12.4V26.26"/>
<path d="M642.44 14.47L652.64 24.67M642.44 24.67L652.64 14.47"/>
<circle cx="643.33" cy="18.85" r="4.41"/>
<path d="M643.11 12.41L649.24 23.04L636.97 23.04Z"/>
<path d="M634.13 18.78H647.99M641.06 11.85V25.71"/>
<path d="M640.46 13.79L650.65 23.98M640.46 23.98L650.65 13.79"/>
<circle cx="642.53" cy="20.08" r="4.41"/>
<path d="M644.02 11.82L650.16 22.45L637.88 22.45Z"/>
<path d="M639.72 20.09H653.58M646.65 13.16V27.02"/>
<path d="M642.44 14.79L652.64 24.98M642.44 24.98L652.64 14.79"/>
<path d="M617.8 14.2L628 24.4M617.8 24.4L628 14.2"/>
<circle cx="632" cy="16.6" r="4.41"/>
<circle cx="632.3" cy="22" r="4.41"/>
<path d="M646.9 14.9L657.1 25.1M646.9 25.1L657.1 14.9"/>
<path d="M644.07 19.5H657.93M651 12.57V26.43"/>
</g>
<path fill="none" stroke="#484848" stroke-width="1.9" d="M244.65 1.3V151.5"/>
<path fill="none" stroke="#323232" stroke-width="1.5" d="M92.15 150.8H245.65"/>
<g fill="none" stroke="#000" stroke-width="1.75" stroke-linejoin="round" stroke-opacity="0.74">
<circle cx="111.25" cy="51.5" r="4.41"/>
<path d="M111.25 69.61L117.39 80.24L105.11 80.24Z"/>
<path d="M104.32 101.5H118.18M111.25 94.57V108.43"/>
<path d="M106.15 121.4L116.35 131.6M106.15 131.6L116.35 121.4"/>
</g>
</g>
<g id="panel-b">
<path fill="none" stroke="#5e5e5e" stroke-width="2.2" d="M1398 0.6V502.1"/>
<path fill="none" stroke="#5e5e5e" stroke-width="2.2" d="M821.05 0.6V502.1M905 501.4V514.9M991.25 501.4V514.9M1077.5 501.4V514.9M1163.75 501.4V514.9M1250 501.4V514.9M1336.25 501.4V514.9"/>
<path fill="none" stroke="#666" stroke-width="3.4" d="M819.55 1.3H1399.5"/>
<path fill="none" stroke="#323232" stroke-width="1.5" d="M820.05 501.4H1399M821.05 460H806.85M821.05 351.1H806.85M821.05 242.2H806.85M821.05 133.3H806.85M821.05 24.4H806.85"/>
<g fill="none" stroke="#000" stroke-width="1.75" stroke-linejoin="round" stroke-opacity="0.74">
<path d="M836.27 174.1L846.46 184.3M836.27 184.3L846.46 174.1"/>
<path d="M835.07 205.1H848.93M842 198.17V212.03"/>
<path d="M834.75 216.4H848.61M841.68 209.47V223.33"/>
<path d="M835.05 217H848.91M841.98 210.07V223.93"/>
<path d="M836.56 305.2L846.75 315.4M836.56 315.4L846.75 305.2"/>
<path d="M836.38 314.1L846.57 324.3M836.38 324.3L846.57 314.1"/>
<circle cx="841.95" cy="271.2" r="4.41"/>
<circle cx="841.53" cy="269.2" r="4.41"/>
<path d="M834.55 218.74H848.41M841.48 211.81V225.67"/>
<path d="M834.89 218.95H848.75M841.82 212.02V225.88"/>
<circle cx="841.85" cy="220.94" r="4.41"/>
<path d="M836.91 216.87L847.1 227.07M836.91 227.07L847.1 216.87"/>
<path d="M841.8 216.42L847.94 227.05L835.66 227.05Z"/>
<path d="M836.97 220.51L847.17 230.7M836.97 230.7L847.17 220.51"/>
<path d="M835 226.42H848.86M841.93 219.49V233.34"/>
<path d="M834.29 227.77H848.15M841.22 220.84V234.7"/>
<path d="M841.35 221.31L847.49 231.94L835.21 231.94Z"/>
<path d="M835.1 230.49H848.96M842.03 223.56V237.42"/>
<circle cx="841.78" cy="231.74" r="4.41"/>
<path d="M835.25 233.1H849.11M842.18 226.17V240.02"/>
<circle cx="841.45" cy="234.83" r="4.41"/>
<path d="M834.66 236.45H848.52M841.59 229.52V243.37"/>
<path d="M834.65 238.03H848.51M841.58 231.1V244.96"/>
<path d="M836.88 233.97L847.07 244.16M836.88 244.16L847.07 233.97"/>
<circle cx="841.43" cy="240.56" r="4.41"/>
<path d="M834.72 241.89H848.58M841.65 234.96V248.81"/>
<path d="M834.96 244.03H848.82M841.89 237.1V250.96"/>
<path d="M834.59 245.24H848.45M841.52 238.31V252.17"/>
<path d="M834.54 246.02H848.4M841.47 239.09V252.95"/>
<circle cx="841.36" cy="248.19" r="4.41"/>
<path d="M842.12 241.37L848.26 252L835.98 252Z"/>
<path d="M841.96 243.08L848.1 253.71L835.83 253.71Z"/>
<path d="M841.98 244.6L848.12 255.23L835.85 255.23Z"/>
<path d="M834.56 253.43H848.42M841.49 246.5V260.36"/>
<circle cx="841.34" cy="253.71" r="4.41"/>
<path d="M836.99 250.85L847.19 261.04M836.99 261.04L847.19 250.85"/>
<circle cx="842.19" cy="257.26" r="4.41"/>
<path d="M841.35 251.5L847.48 262.13L835.21 262.13Z"/>
<path d="M842.18 253L848.31 263.63L836.04 263.63Z"/>
<path d="M842 254.1L848.13 264.73L835.86 264.73Z"/>
<path d="M834.82 262.58H848.68M841.75 255.65V269.51"/>
<path d="M836.88 258.79L847.07 268.98M836.88 268.98L847.07 258.79"/>
<path d="M834.77 265.43H848.63M841.7 258.5V272.36"/>
<path d="M834.8 267.19H848.66M841.73 260.26V274.12"/>
<path d="M841.74 261.42L847.88 272.05L835.6 272.05Z"/>
<path d="M943.59 15.2L953.78 25.4M943.59 25.4L953.78 15.2"/>
<path d="M948.58 182.31L954.72 192.94L942.44 192.94Z"/>
<path d="M943.89 199.6L954.08 209.8M943.89 209.8L954.08 199.6"/>
<circle cx="948.92" cy="224.6" r="4.41"/>
<path d="M949.18 219.61L955.32 230.24L943.04 230.24Z"/>
<circle cx="948.51" cy="227.2" r="4.41"/>
<path d="M941.33 233.5H955.19M948.26 226.57V240.43"/>
<path d="M941.67 234H955.53M948.6 227.07V240.93"/>
<path d="M941.98 273.1H955.84M948.91 266.17V280.03"/>
<path d="M944.03 272L954.22 282.2M944.03 282.2L954.22 272"/>
<path d="M943.69 280L953.88 290.2M943.69 290.2L953.88 280"/>
<circle cx="948.21" cy="290.1" r="4.41"/>
<path d="M948.58 290.31L954.72 300.94L942.45 300.94Z"/>
<path d="M943.64 314.2L953.84 324.4M943.64 324.4L953.84 314.2"/>
<path d="M943.64 340.4L953.83 350.6M943.64 350.6L953.83 340.4"/>
<path d="M943.46 265.1L953.65 275.3M943.46 275.3L953.65 265.1"/>
<path d="M948.26 229.66L954.4 240.29L942.13 240.29Z"/>
<path d="M943.5 231.71L953.69 241.91M943.5 241.91L953.69 231.71"/>
<path d="M948.72 231.55L954.86 242.18L942.58 242.18Z"/>
<circle cx="948.46" cy="239.76" r="4.41"/>
<path d="M949.03 233.8L955.17 244.43L942.9 244.43Z"/>
<path d="M941.59 242.62H955.45M948.52 235.7V249.55"/>
<path d="M948.71 236.81L954.84 247.44L942.57 247.44Z"/>
<path d="M941.47 245.67H955.33M948.4 238.75V252.6"/>
<path d="M948.41 239.98L954.55 250.61L942.28 250.61Z"/>
<path d="M943.2 242.71L953.39 252.9M943.2 252.9L953.39 242.71"/>
<path d="M949.01 241.6L955.14 252.23L942.87 252.23Z"/>
<path d="M943.39 245.01L953.59 255.2M943.39 255.2L953.59 245.01"/>
<path d="M943.68 245.54L953.87 255.73M943.68 255.73L953.87 245.54"/>
<path d="M948.56 245.04L954.7 255.67L942.42 255.67Z"/>
<path d="M942.05 253.16H955.91M948.98 246.24V260.09"/>
<path d="M943.96 250.08L954.15 260.27M943.96 260.27L954.15 250.08"/>
<circle cx="948.45" cy="256.85" r="4.41"/>
<path d="M942.19 258.43H956.05M949.12 251.5V265.36"/>
<path d="M941.76 259.67H955.62M948.69 252.74V266.6"/>
<path d="M942.14 260.37H956M949.07 253.44V267.3"/>
<path d="M941.64 262H955.5M948.57 255.07V268.93"/>
<path d="M943.57 257.81L953.76 268M943.57 268L953.76 257.81"/>
<circle cx="948.28" cy="264.96" r="4.41"/>
<path d="M1157.42 52.8L1167.61 63M1157.42 63L1167.61 52.8"/>
<path d="M1157.13 94.3L1167.33 104.5M1157.13 104.5L1167.33 94.3"/>
<path d="M1162.48 108.81L1168.62 119.44L1156.34 119.44Z"/>
<path d="M1155.88 119.1H1169.74M1162.81 112.17V126.03"/>
<path d="M1155.36 132.8H1169.22M1162.29 125.87V139.73"/>
<path d="M1157.31 131.8L1167.5 142M1157.31 142L1167.5 131.8"/>
<path d="M1163.07 138.71L1169.21 149.34L1156.93 149.34Z"/>
<circle cx="1162.77" cy="158.7" r="4.41"/>
<path d="M1162.79 167.01L1168.92 177.64L1156.65 177.64Z"/>
<path d="M1155.48 177.7H1169.34M1162.41 170.77V184.63"/>
<circle cx="1163.13" cy="188.6" r="4.41"/>
<circle cx="1162.48" cy="190.8" r="4.41"/>
<path d="M1157.2 195.7L1167.39 205.9M1157.2 205.9L1167.39 195.7"/>
<path d="M1155.72 201.2H1169.58M1162.65 194.27V208.13"/>
<path d="M1155.86 208.9H1169.72M1162.79 201.97V215.83"/>
<circle cx="1162.81" cy="205.2" r="4.41"/>
<path d="M1162.33 263.01L1168.47 273.64L1156.19 273.64Z"/>
<path d="M1157.95 269.9L1168.14 280.1M1157.95 280.1L1168.14 269.9"/>
<path d="M1155.61 290.4H1169.47M1162.54 283.47V297.33"/>
<circle cx="1163.19" cy="262.2" r="4.41"/>
<path d="M1155.65 256.2H1169.51M1162.58 249.27V263.13"/>
<path d="M1157.13 254.1L1167.32 264.3M1157.13 264.3L1167.32 254.1"/>
<path d="M1162.23 247.11L1168.37 257.74L1156.1 257.74Z"/>
<circle cx="1162.57" cy="252.2" r="4.41"/>
<path d="M1155.98 264.2H1169.84M1162.91 257.27V271.13"/>
<path d="M1155.76 211.51H1169.62M1162.69 204.58V218.44"/>
<circle cx="1163.05" cy="212.95" r="4.41"/>
<path d="M1158 209.12L1168.19 219.31M1158 219.31L1168.19 209.12"/>
<path d="M1156.13 216.39H1169.99M1163.06 209.46V223.32"/>
<path d="M1162.84 210.3L1168.98 220.93L1156.7 220.93Z"/>
<path d="M1163.12 212.12L1169.26 222.75L1156.98 222.75Z"/>
<path d="M1155.98 220.27H1169.84M1162.91 213.34V227.2"/>
<path d="M1155.36 222.71H1169.22M1162.29 215.78V229.64"/>
<path d="M1157.42 218.5L1167.61 228.69M1157.42 228.69L1167.61 218.5"/>
<path d="M1162.43 218.41L1168.57 229.04L1156.3 229.04Z"/>
<path d="M1155.36 228H1169.22M1162.29 221.07V234.93"/>
<path d="M1158.02 223.25L1168.22 233.45M1158.02 233.45L1168.22 223.25"/>
<path d="M1162.71 222.86L1168.84 233.49L1156.57 233.49Z"/>
<circle cx="1162.38" cy="232.32" r="4.41"/>
<path d="M1157.95 228.11L1168.15 238.3M1157.95 238.3L1168.15 228.11"/>
<circle cx="1162.57" cy="234.57" r="4.41"/>
<path d="M1162.44 229.31L1168.57 239.94L1156.3 239.94Z"/>
<path d="M1157.82 232.34L1168.02 242.53M1157.82 242.53L1168.02 232.34"/>
<circle cx="1162.37" cy="239.36" r="4.41"/>
<circle cx="1163.14" cy="241.39" r="4.41"/>
<path d="M1158.05 236.66L1168.24 246.86M1158.05 246.86L1168.24 236.66"/>
<path d="M1155.33 244.28H1169.19M1162.26 237.35V251.21"/>
<path d="M1155.82 245.67H1169.68M1162.75 238.74V252.6"/>
<path d="M1155.3 245.79H1169.16M1162.23 238.86V252.72"/>
<path d="M1156.19 248.5H1170.05M1163.12 241.57V255.43"/>
<path d="M1155.53 252.2H1169.39M1162.46 245.27V259.13"/>
<path d="M1162.71 248.73L1168.85 259.36L1156.58 259.36Z"/>
<path d="M1162.94 251.66L1169.08 262.29L1156.8 262.29Z"/>
<path d="M1156.03 261.32H1169.89M1162.96 254.39V268.25"/>
<path d="M1369.65 184.9H1383.51M1376.58 177.97V191.83"/>
<path d="M1376.2 181.01L1382.34 191.64L1370.06 191.64Z"/>
<circle cx="1376.42" cy="260.1" r="4.41"/>
<path d="M1376.11 267.61L1382.24 278.24L1369.97 278.24Z"/>
<path d="M1376.3 272.41L1382.44 283.04L1370.16 283.04Z"/>
<path d="M1371.75 281L1381.94 291.2M1371.75 291.2L1381.94 281"/>
<path d="M1371.59 286L1381.79 296.2M1371.59 296.2L1381.79 286"/>
<path d="M1369.61 307.4H1383.47M1376.54 300.47V314.33"/>
<circle cx="1376.75" cy="313.7" r="4.41"/>
<circle cx="1376.57" cy="317.6" r="4.41"/>
<path d="M1376.47 313.51L1382.61 324.14L1370.33 324.14Z"/>
<path d="M1376.49 317.31L1382.63 327.94L1370.35 327.94Z"/>
<path d="M1369.55 344.1H1383.4M1376.47 337.17V351.03"/>
<path d="M1371.38 350.5L1381.58 360.7M1371.38 360.7L1381.58 350.5"/>
<path d="M1371.45 370.7L1381.64 380.9M1371.45 380.9L1381.64 370.7"/>
<path d="M1371.81 478.3L1382 488.5M1371.81 488.5L1382 478.3"/>
<circle cx="1377.01" cy="192.25" r="4.41"/>
<path d="M1370.06 196.41H1383.92M1376.99 189.48V203.34"/>
<path d="M1376.57 191.86L1382.71 202.49L1370.43 202.49Z"/>
<path d="M1377.01 195.25L1383.15 205.88L1370.88 205.88Z"/>
<path d="M1376.9 198.78L1383.04 209.41L1370.76 209.41Z"/>
<path d="M1369.33 208.19H1383.19M1376.26 201.26V215.12"/>
<path d="M1376.93 204.8L1383.07 215.43L1370.8 215.43Z"/>
<circle cx="1376.18" cy="214.97" r="4.41"/>
<circle cx="1376.72" cy="218.49" r="4.41"/>
<path d="M1369.54 221.23H1383.4M1376.47 214.3V228.16"/>
<path d="M1371.75 219.63L1381.95 229.82M1371.75 229.82L1381.95 219.63"/>
<path d="M1371.78 221.17L1381.97 231.37M1371.78 231.37L1381.97 221.17"/>
<path d="M1370.13 230.09H1383.99M1377.06 223.16V237.02"/>
<path d="M1377.03 225.05L1383.16 235.68L1370.89 235.68Z"/>
<path d="M1369.56 233.39H1383.41M1376.49 226.47V240.32"/>
<path d="M1371.03 228.93L1381.22 239.13M1371.03 239.13L1381.22 228.93"/>
<path d="M1369.25 235.12H1383.1M1376.18 228.19V242.05"/>
<path d="M1377.07 229.32L1383.21 239.95L1370.93 239.95Z"/>
<path d="M1371.33 232.63L1381.52 242.82M1371.33 242.82L1381.52 232.63"/>
<path d="M1369.4 238.86H1383.26M1376.33 231.94V245.79"/>
<path d="M1371.12 234.01L1381.31 244.21M1371.12 244.21L1381.31 234.01"/>
<path d="M1376.47 232.73L1382.6 243.36L1370.33 243.36Z"/>
<path d="M1369.5 240.64H1383.36M1376.43 233.71V247.57"/>
<circle cx="1376.84" cy="242.17" r="4.41"/>
<path d="M1369.35 242.3H1383.21M1376.28 235.37V249.23"/>
<path d="M1376.55 236.54L1382.69 247.17L1370.41 247.17Z"/>
<path d="M1370.06 245.7H1383.92M1376.99 238.77V252.62"/>
<path d="M1371.44 241.33L1381.63 251.53M1371.44 251.53L1381.63 241.33"/>
<circle cx="1376.25" cy="247.42" r="4.41"/>
<path d="M1369.59 247.4H1383.45M1376.52 240.48V254.33"/>
<path d="M1369.42 248.08H1383.28M1376.35 241.15V255.01"/>
<path d="M1369.2 249.94H1383.06M1376.13 243.01V256.87"/>
<circle cx="1376.67" cy="250.77" r="4.41"/>
<path d="M1369.47 251.17H1383.33M1376.4 244.24V258.1"/>
<path d="M1369.97 253.45H1383.83M1376.9 246.52V260.38"/>
</g>
<path fill="none" stroke="#484848" stroke-width="1.9" d="M1246.1 1.5V151.7"/>
<path fill="none" stroke="#323232" stroke-width="1.5" d="M1245.1 151H1398.6M1245.1 1.5H1398.6"/>
<g fill="none" stroke="#000" stroke-width="1.75" stroke-linejoin="round" stroke-opacity="0.74">
<circle cx="1264.2" cy="51.7" r="4.41"/>
<path d="M1264.2 69.81L1270.34 80.44L1258.06 80.44Z"/>
<path d="M1257.27 101.7H1271.13M1264.2 94.77V108.63"/>
<path d="M1259.1 121.6L1269.3 131.8M1259.1 131.8L1269.3 121.6"/>
</g>
</g>
<g id="panel-c">
<path fill="none" stroke="#707070" stroke-width="2.3" d="M670.1 635.8V1137.7"/>
<path fill="none" stroke="#4a4a4a" stroke-width="1.9" d="M92.9 635.8V1137.7M203 1137V1150.5M314.25 1137V1150.5M425.5 1137V1150.5M536.75 1137V1150.5M648 1137V1150.5"/>
<path fill="none" stroke="#323232" stroke-width="1.5" d="M91.9 636.5H671.1M91.9 1137H671.1M92.9 1095.49H78.7M92.9 986.47H78.7M92.9 877.45H78.7M92.9 768.43H78.7M92.9 659.41H78.7"/>
<g fill="none" stroke="#000" stroke-width="1.75" stroke-linejoin="round" stroke-opacity="0.74">
<path d="M108.86 649.85L119.06 660.05M108.86 660.05L119.06 649.85"/>
<path d="M108.71 687.85L118.91 698.05M108.71 698.05L118.91 687.85"/>
<path d="M107.23 754.15H121.09M114.16 747.22V761.08"/>
<path d="M114.18 773.26L120.32 783.89L108.05 783.89Z"/>
<path d="M113.85 814.96L119.99 825.59L107.72 825.59Z"/>
<path d="M114.21 816.96L120.35 827.59L108.08 827.59Z"/>
<circle cx="114.33" cy="825.05" r="4.41"/>
<circle cx="114.49" cy="835.35" r="4.41"/>
<circle cx="114.63" cy="843.75" r="4.41"/>
<path d="M107.33 852.85H121.19M114.26 845.92V859.78"/>
<path d="M107.61 853.65H121.46M114.54 846.72V860.58"/>
<path d="M108.72 867.95L118.92 878.15M108.72 878.15L118.92 867.95"/>
<path d="M114.45 874.96L120.59 885.59L108.32 885.59Z"/>
<path d="M107.74 888.55H121.6M114.67 881.62V895.48"/>
<path d="M114.13 883.96L120.27 894.59L107.99 894.59Z"/>
<path d="M107.03 914.55H120.89M113.96 907.62V921.48"/>
<path d="M107.01 916.05H120.87M113.94 909.12V922.98"/>
<path d="M108.84 916.25L119.03 926.45M108.84 926.45L119.03 916.25"/>
<path d="M108.99 940.95L119.19 951.15M108.99 951.15L119.19 940.95"/>
<path d="M114.12 952.36L120.25 962.99L107.98 962.99Z"/>
<path d="M108.77 1113.65L118.96 1123.85M108.77 1123.85L118.96 1113.65"/>
<path d="M109.44 873.35L119.63 883.55M109.44 883.55L119.63 873.35"/>
<circle cx="114.68" cy="869.45" r="4.41"/>
<path d="M108.75 862.35L118.94 872.55M108.75 872.55L118.94 862.35"/>
<circle cx="114.34" cy="855.18" r="4.41"/>
<path d="M109.05 852.44L119.24 862.63M109.05 862.63L119.24 852.44"/>
<path d="M107.28 859.71H121.14M114.21 852.78V866.64"/>
<circle cx="114.21" cy="861.28" r="4.41"/>
<path d="M114.14 856.33L120.28 866.96L108.01 866.96Z"/>
<circle cx="114.49" cy="865.2" r="4.41"/>
<path d="M114.64 860.53L120.78 871.16L108.51 871.16Z"/>
<path d="M107.06 869.28H120.92M113.99 862.35V876.21"/>
<circle cx="114.06" cy="871.49" r="4.41"/>
<path d="M106.81 873.38H120.67M113.74 866.45V880.31"/>
<path d="M107.18 875.38H121.04M114.11 868.45V882.31"/>
<circle cx="113.98" cy="876.74" r="4.41"/>
<circle cx="113.88" cy="878.5" r="4.41"/>
<path d="M131.35 728.85L141.54 739.05M131.35 739.05L141.54 728.85"/>
<path d="M136.12 744.46L142.26 755.09L129.98 755.09Z"/>
<path d="M128.9 767.15H142.76M135.83 760.22V774.08"/>
<circle cx="135.78" cy="781.35" r="4.41"/>
<circle cx="136.2" cy="793.65" r="4.41"/>
<path d="M136.43 805.46L142.57 816.09L130.29 816.09Z"/>
<path d="M136.49 806.36L142.63 816.99L130.35 816.99Z"/>
<path d="M129.4 815.55H143.26M136.33 808.62V822.48"/>
<path d="M129.43 840.05H143.29M136.36 833.12V846.98"/>
<path d="M128.85 851.05H142.7M135.78 844.12V857.98"/>
<path d="M135.74 849.76L141.87 860.39L129.6 860.39Z"/>
<circle cx="136.27" cy="867.55" r="4.41"/>
<path d="M129.3 883.45H143.16M136.23 876.52V890.38"/>
<path d="M135.79 889.86L141.93 900.49L129.65 900.49Z"/>
<path d="M130.81 897.95L141 908.15M130.81 908.15L141 897.95"/>
<path d="M130.51 906.95L140.71 917.15M130.51 917.15L140.71 906.95"/>
<path d="M131.2 915.95L141.39 926.15M131.2 926.15L141.39 915.95"/>
<path d="M129.19 942.85H143.05M136.12 935.92V949.78"/>
<circle cx="136.44" cy="948.55" r="4.41"/>
<path d="M136.52 945.36L142.65 955.99L130.38 955.99Z"/>
<path d="M136.12 947.96L142.26 958.59L129.98 958.59Z"/>
<path d="M129.02 979.65H142.88M135.95 972.72V986.58"/>
<path d="M130.79 985.25L140.98 995.45M130.79 995.45L140.98 985.25"/>
<path d="M131.14 1005.95L141.34 1016.15M131.14 1016.15L141.34 1005.95"/>
<circle cx="136.55" cy="869.91" r="4.41"/>
<path d="M128.76 871.84H142.62M135.69 864.91V878.77"/>
<path d="M129.08 872.96H142.94M136.01 866.03V879.89"/>
<path d="M136.36 867.35L142.5 877.98L130.23 877.98Z"/>
<path d="M128.8 875.93H142.66M135.73 869V882.86"/>
<path d="M129.34 877.61H143.2M136.27 870.68V884.54"/>
<circle cx="135.85" cy="878.46" r="4.41"/>
<path d="M136.16 873.52L142.3 884.15L130.03 884.15Z"/>
<path d="M131.49 876.62L141.68 886.81M131.49 886.81L141.68 876.62"/>
<path d="M128.71 883.28H142.57M135.64 876.35V890.21"/>
<path d="M129.37 884.57H143.23M136.3 877.64V891.5"/>
<path d="M153.48 841.95L163.67 852.15M153.48 852.15L163.67 841.95"/>
<path d="M158.86 898.96L165 909.59L152.72 909.59Z"/>
<path d="M158.36 905.96L164.49 916.59L152.22 916.59Z"/>
<circle cx="158.93" cy="917.35" r="4.41"/>
<path d="M152.04 919.65H165.9M158.97 912.72V926.58"/>
<path d="M152.98 921.35L163.17 931.55M152.98 931.55L163.17 921.35"/>
<path d="M153.26 948.55L163.45 958.75M153.26 958.75L163.45 948.55"/>
<path d="M153.15 951.35L163.34 961.55M153.15 961.55L163.34 951.35"/>
<path d="M158.83 843.93L164.97 854.56L152.69 854.56Z"/>
<path d="M151.98 854.44H165.84M158.91 847.51V861.37"/>
<path d="M151.85 855.74H165.71M158.78 848.81V862.67"/>
<path d="M158.87 849.54L165.01 860.17L152.73 860.17Z"/>
<circle cx="158.58" cy="859.8" r="4.41"/>
<path d="M153.8 856.59L163.99 866.78M153.8 866.78L163.99 856.59"/>
<circle cx="158.29" cy="863.75" r="4.41"/>
<path d="M151.18 864.79H165.04M158.11 857.86V871.72"/>
<path d="M158.73 860.7L164.87 871.33L152.59 871.33Z"/>
<circle cx="158.45" cy="868.72" r="4.41"/>
<path d="M151.1 871.56H164.96M158.03 864.63V878.49"/>
<path d="M158.8 865.55L164.94 876.18L152.67 876.18Z"/>
<circle cx="158.13" cy="874.51" r="4.41"/>
<path d="M158.24 869.3L164.38 879.93L152.11 879.93Z"/>
<path d="M158.09 872.05L164.23 882.68L151.95 882.68Z"/>
<path d="M151.69 880.47H165.55M158.62 873.54V887.4"/>
<circle cx="158.17" cy="882.97" r="4.41"/>
<path d="M158.31 878L164.45 888.63L152.17 888.63Z"/>
<path d="M151.63 887.03H165.48M158.56 880.1V893.96"/>
<path d="M153.86 883.43L164.05 893.63M153.86 893.63L164.05 883.43"/>
<path d="M151.09 890.79H164.95M158.02 883.86V897.72"/>
<path d="M153.83 888.67L164.02 898.86M153.83 898.86L164.02 888.67"/>
<circle cx="158.74" cy="895.46" r="4.41"/>
<path d="M151.33 898H165.19M158.26 891.07V904.93"/>
<path d="M158.84 893.6L164.97 904.23L152.7 904.23Z"/>
<path d="M175.74 766.65L185.93 776.85M175.74 776.85L185.93 766.65"/>
<path d="M173.73 835.85H187.59M180.66 828.92V842.78"/>
<path d="M175.34 830.95L185.53 841.15M175.34 841.15L185.53 830.95"/>
<path d="M175.55 833.95L185.74 844.15M175.55 844.15L185.74 833.95"/>
<path d="M180.55 842.36L186.69 852.99L174.41 852.99Z"/>
<circle cx="180.29" cy="907.05" r="4.41"/>
<path d="M180.38 908.96L186.52 919.59L174.24 919.59Z"/>
<path d="M175.38 975.45L185.57 985.65M175.38 985.65L185.57 975.45"/>
<path d="M173.74 841.45H187.59M180.66 834.52V848.38"/>
<path d="M175.69 840.35L185.88 850.55M175.69 850.55L185.88 840.35"/>
<path d="M180.96 844.91L187.1 855.54L174.82 855.54Z"/>
<path d="M180.31 845.86L186.45 856.49L174.17 856.49Z"/>
<circle cx="180.32" cy="855.55" r="4.41"/>
<path d="M174.15 856.82H188.01M181.08 849.89V863.75"/>
<circle cx="180.74" cy="858.84" r="4.41"/>
<path d="M175.33 854.72L185.52 864.91M175.33 864.91L185.52 854.72"/>
<path d="M173.5 863.13H187.36M180.43 856.2V870.05"/>
<path d="M180.87 856.48L187.01 867.11L174.73 867.11Z"/>
<path d="M173.73 866.62H187.59M180.66 859.69V873.55"/>
<circle cx="180.6" cy="868.82" r="4.41"/>
<path d="M174.22 870.68H188.08M181.15 863.75V877.61"/>
<path d="M180.22 864.41L186.36 875.04L174.08 875.04Z"/>
<path d="M173.91 874.69H187.76M180.83 867.76V881.62"/>
<path d="M173.96 876.04H187.82M180.89 869.11V882.97"/>
<path d="M173.87 878.12H187.73M180.8 871.19V885.05"/>
<path d="M173.87 880.74H187.73M180.8 873.81V887.67"/>
<path d="M180.24 874.46L186.37 885.09L174.1 885.09Z"/>
<path d="M176.07 878.14L186.27 888.33M176.07 888.33L186.27 878.14"/>
<path d="M173.32 885.04H187.18M180.25 878.11V891.97"/>
<path d="M175.47 882.08L185.66 892.27M175.47 892.27L185.66 882.08"/>
<path d="M173.67 889.06H187.53M180.6 882.13V895.99"/>
<path d="M174.11 891.28H187.97M181.04 884.35V898.21"/>
<circle cx="180.92" cy="894.28" r="4.41"/>
<path d="M174.11 895.42H187.97M181.04 888.49V902.35"/>
<path d="M173.83 897.42H187.69M180.76 890.49V904.35"/>
<path d="M181.19 891.99L187.32 902.62L175.05 902.62Z"/>
<path d="M195.89 821.05H209.75M202.82 814.12V827.98"/>
<path d="M202.9 818.56L209.04 829.19L196.76 829.19Z"/>
<circle cx="203.06" cy="847.75" r="4.41"/>
<circle cx="202.82" cy="848.55" r="4.41"/>
<path d="M197.55 859.95L207.74 870.15M197.55 870.15L207.74 859.95"/>
<path d="M198.08 867.95L208.28 878.15M198.08 878.15L208.28 867.95"/>
<circle cx="202.85" cy="883.05" r="4.41"/>
<path d="M196.44 907.75H210.3M203.37 900.82V914.68"/>
<circle cx="203.16" cy="913.05" r="4.41"/>
<circle cx="202.51" cy="918.55" r="4.41"/>
<path d="M195.68 925.35H209.54M202.61 918.42V932.28"/>
<circle cx="202.69" cy="927.55" r="4.41"/>
<path d="M202.82 925.26L208.96 935.89L196.69 935.89Z"/>
<path d="M197.6 949.65L207.8 959.85M197.6 959.85L207.8 949.65"/>
<path d="M196.24 857.45H210.1M203.17 850.52V864.38"/>
<path d="M197.63 853.35L207.82 863.55M197.63 863.55L207.82 853.35"/>
<path d="M195.99 913.45H209.85M202.92 906.52V920.38"/>
<path d="M202.9 914.36L209.03 924.99L196.76 924.99Z"/>
<path d="M196.57 880.83H210.43M203.5 873.9V887.76"/>
<path d="M202.95 875.22L209.09 885.85L196.82 885.85Z"/>
<path d="M202.55 876.19L208.68 886.82L196.41 886.82Z"/>
<path d="M196.55 884.89H210.41M203.48 877.96V891.82"/>
<path d="M196.54 886.08H210.4M203.47 879.15V893.01"/>
<circle cx="202.54" cy="888.07" r="4.41"/>
<path d="M196.44 889.19H210.3M203.37 882.26V896.12"/>
<path d="M196.19 890.28H210.05M203.12 883.35V897.21"/>
<path d="M196.49 891.71H210.35M203.42 884.78V898.64"/>
<path d="M198.03 888.69L208.22 898.88M198.03 898.88L208.22 888.69"/>
<path d="M196.2 895.38H210.06M203.13 888.45V902.31"/>
<path d="M196.38 896.46H210.24M203.31 889.53V903.39"/>
<circle cx="202.54" cy="897.63" r="4.41"/>
<path d="M195.67 900.47H209.53M202.6 893.54V907.4"/>
<path d="M195.69 901.07H209.55M202.62 894.14V908"/>
<circle cx="202.51" cy="903.39" r="4.41"/>
<path d="M643.54 830.95L653.73 841.15M643.54 841.15L653.73 830.95"/>
<path d="M643.34 840.25L653.54 850.45M643.34 850.45L653.54 840.25"/>
<path d="M648.51 850.46L654.65 861.09L642.38 861.09Z"/>
<path d="M648.75 854.96L654.88 865.59L642.61 865.59Z"/>
<path d="M643.47 895.85L653.66 906.05M643.47 906.05L653.66 895.85"/>
<path d="M643.36 913.25L653.56 923.45M643.36 923.45L653.56 913.25"/>
<path d="M649.36 856.24L655.5 866.87L643.22 866.87Z"/>
<path d="M642.39 865.22H656.25M649.32 858.3V872.15"/>
<path d="M649.3 860.18L655.44 870.81L643.16 870.81Z"/>
<path d="M641.55 868.38H655.41M648.48 861.45V875.31"/>
<path d="M642.06 869.58H655.92M648.99 862.65V876.51"/>
<path d="M642.4 870.9H656.26M649.33 863.97V877.82"/>
<path d="M641.91 872.46H655.77M648.84 865.53V879.39"/>
<path d="M648.91 866.54L655.05 877.17L642.77 877.17Z"/>
<path d="M642.36 875.42H656.21M649.29 868.5V882.35"/>
<path d="M642.39 876.59H656.25M649.32 869.66V883.52"/>
<path d="M642.05 878.1H655.91M648.98 871.17V885.03"/>
<circle cx="648.67" cy="879.43" r="4.41"/>
<path d="M649.14 874.33L655.27 884.96L643 884.96Z"/>
<path d="M642.21 882.45H656.07M649.14 875.53V889.38"/>
<path d="M641.76 884H655.62M648.69 877.07V890.93"/>
<path d="M643.76 880.05L653.95 890.24M643.76 890.24L653.95 880.05"/>
<path d="M642.17 886.36H656.02M649.09 879.43V893.29"/>
<path d="M641.69 887.96H655.55M648.62 881.03V894.89"/>
<path d="M641.86 889.37H655.72M648.79 882.44V896.3"/>
<path d="M648.95 883.3L655.09 893.93L642.81 893.93Z"/>
<path d="M641.84 892.58H655.7M648.77 885.65V899.51"/>
<path d="M644.2 888.56L654.39 898.75M644.2 898.75L654.39 888.56"/>
<path d="M648.7 888.21L654.84 898.84L642.57 898.84Z"/>
<path d="M641.95 896.88H655.81M648.88 889.95V903.81"/>
<path d="M649.22 890.64L655.36 901.27L643.08 901.27Z"/>
<path d="M641.5 900.07H655.36M648.43 893.14V907"/>
</g>
<path fill="none" stroke="#484848" stroke-width="1.9" d="M518.2 636.5V786.7"/>
<path fill="none" stroke="#323232" stroke-width="1.5" d="M517.2 786H670.7"/>
<g fill="none" stroke="#000" stroke-width="1.75" stroke-linejoin="round" stroke-opacity="0.74">
<circle cx="536.3" cy="686.7" r="4.41"/>
<path d="M536.3 704.81L542.44 715.44L530.16 715.44Z"/>
<path d="M529.37 736.7H543.23M536.3 729.77V743.63"/>
<path d="M531.2 756.6L541.4 766.8M531.2 766.8L541.4 756.6"/>
</g>
</g>
<g id="panel-d">
<path fill="none" stroke="#6a6a6a" stroke-width="2.4" d="M1398 631.6V1133.6"/>
<path fill="none" stroke="#6a6a6a" stroke-width="2.4" d="M820.8 631.6V1133.6M820.75 1132.9V1146.4M906.15 1132.9V1146.4M991.55 1132.9V1146.4M1076.95 1132.9V1146.4M1162.35 1132.9V1146.4M1247.75 1132.9V1146.4M1333.15 1132.9V1146.4"/>
<path fill="none" stroke="#6a6a6a" stroke-width="3" d="M819.3 631.9H1399.5"/>
<path fill="none" stroke="#323232" stroke-width="1.5" d="M819.8 1132.9H1399M820.8 1091.25H806.6M820.8 982.11H806.6M820.8 872.97H806.6M820.8 763.83H806.6M820.8 654.69H806.6"/>
<g fill="none" stroke="#000" stroke-width="1.75" stroke-linejoin="round" stroke-opacity="0.74">
<path d="M836.46 804.74L846.65 814.93M836.46 814.93L846.65 804.74"/>
<path d="M834.73 835.79H848.59M841.66 828.86V842.72"/>
<path d="M835.09 847.11H848.95M842.02 840.18V854.04"/>
<path d="M834.64 847.71H848.5M841.57 840.78V854.64"/>
<path d="M836.51 936.12L846.7 946.32M836.51 946.32L846.7 936.12"/>
<path d="M836.59 945.04L846.78 955.24M836.59 955.24L846.78 945.04"/>
<circle cx="841.28" cy="902.03" r="4.41"/>
<circle cx="841.61" cy="900.03" r="4.41"/>
<path d="M834.8 849.46H848.66M841.73 842.53V856.39"/>
<path d="M834.96 849.67H848.82M841.89 842.74V856.6"/>
<circle cx="841.19" cy="851.67" r="4.41"/>
<path d="M836.31 847.6L846.5 857.79M836.31 857.79L846.5 847.6"/>
<path d="M841.19 847.15L847.33 857.78L835.05 857.78Z"/>
<path d="M836.81 851.24L847.01 861.44M836.81 861.44L847.01 851.24"/>
<path d="M834.86 857.15H848.72M841.79 850.22V864.08"/>
<path d="M834.21 858.51H848.07M841.14 851.58V865.44"/>
<path d="M842.08 852.05L848.22 862.68L835.94 862.68Z"/>
<path d="M835.14 861.23H848.99M842.06 854.3V868.16"/>
<circle cx="841.75" cy="862.48" r="4.41"/>
<path d="M834.79 863.85H848.65M841.72 856.92V870.77"/>
<circle cx="841.26" cy="865.58" r="4.41"/>
<path d="M834.19 867.2H848.04M841.12 860.27V874.13"/>
<path d="M834.7 868.79H848.56M841.63 861.86V875.72"/>
<path d="M836.06 864.73L846.26 874.92M836.06 874.92L846.26 864.73"/>
<circle cx="841.29" cy="871.32" r="4.41"/>
<path d="M834.41 872.65H848.27M841.34 865.73V879.58"/>
<path d="M834.2 874.8H848.06M841.13 867.87V881.73"/>
<path d="M834.63 876.02H848.49M841.56 869.09V882.95"/>
<path d="M834.61 876.8H848.47M841.54 869.87V883.73"/>
<circle cx="841.94" cy="878.98" r="4.41"/>
<path d="M841.62 872.15L847.76 882.78L835.48 882.78Z"/>
<path d="M841.74 873.87L847.88 884.5L835.6 884.5Z"/>
<path d="M841.6 875.39L847.74 886.02L835.46 886.02Z"/>
<path d="M834.83 884.23H848.69M841.76 877.3V891.16"/>
<circle cx="841.56" cy="884.5" r="4.41"/>
<path d="M836.28 881.65L846.47 891.84M836.28 891.84L846.47 881.65"/>
<circle cx="842.1" cy="888.06" r="4.41"/>
<path d="M842.1 882.31L848.23 892.94L835.96 892.94Z"/>
<path d="M841.94 883.8L848.08 894.44L835.8 894.44Z"/>
<path d="M841.81 884.91L847.95 895.54L835.67 895.54Z"/>
<path d="M834.49 893.39H848.34M841.42 886.46V900.32"/>
<path d="M836.23 889.6L846.43 899.8M836.23 899.8L846.43 889.6"/>
<path d="M834.46 896.25H848.32M841.39 889.32V903.18"/>
<path d="M834.24 898.01H848.1M841.17 891.08V904.94"/>
<path d="M841.87 892.25L848 902.88L835.73 902.88Z"/>
<path d="M943.3 645.49L953.5 655.68M943.3 655.68L953.5 645.49"/>
<path d="M948.85 812.97L954.98 823.6L942.71 823.6Z"/>
<path d="M943.29 830.29L953.48 840.48M943.29 840.48L953.48 830.29"/>
<circle cx="948.96" cy="855.33" r="4.41"/>
<path d="M948.85 850.35L954.98 860.98L942.71 860.98Z"/>
<circle cx="948" cy="857.94" r="4.41"/>
<path d="M941.28 864.25H955.14M948.21 857.32V871.18"/>
<path d="M941.98 864.75H955.84M948.91 857.82V871.68"/>
<path d="M941.54 903.94H955.4M948.47 897.01V910.87"/>
<path d="M943.88 902.85L954.08 913.04M943.88 913.04L954.08 902.85"/>
<path d="M943.3 910.87L953.49 921.06M943.3 921.06L953.49 910.87"/>
<circle cx="948.07" cy="920.98" r="4.41"/>
<path d="M948.63 921.2L954.77 931.83L942.49 931.83Z"/>
<path d="M943.68 945.14L953.87 955.34M943.68 955.34L953.87 945.14"/>
<path d="M943.17 971.4L953.37 981.59M943.17 981.59L953.37 971.4"/>
<path d="M942.99 895.94L953.18 906.13M942.99 906.13L953.18 895.94"/>
<path d="M948.33 860.42L954.47 871.05L942.2 871.05Z"/>
<path d="M943.87 862.47L954.06 872.66M943.87 872.66L954.06 862.47"/>
<path d="M948.76 862.31L954.9 872.94L942.62 872.94Z"/>
<circle cx="948.12" cy="870.52" r="4.41"/>
<path d="M948.25 864.57L954.38 875.2L942.11 875.2Z"/>
<path d="M941.17 873.4H955.03M948.1 866.47V880.33"/>
<path d="M948.06 867.58L954.2 878.21L941.92 878.21Z"/>
<path d="M941.87 876.45H955.73M948.8 869.52V883.38"/>
<path d="M948.18 870.77L954.32 881.4L942.04 881.4Z"/>
<path d="M943.46 873.49L953.66 883.68M943.46 883.68L953.66 873.49"/>
<path d="M948.45 872.39L954.58 883.02L942.31 883.02Z"/>
<path d="M943.09 875.8L953.29 885.99M943.09 885.99L953.29 875.8"/>
<path d="M943.64 876.33L953.83 886.52M943.64 886.52L953.83 876.33"/>
<path d="M948.13 875.83L954.27 886.46L941.99 886.46Z"/>
<path d="M941.71 883.96H955.57M948.64 877.03V890.89"/>
<path d="M943.02 880.88L953.21 891.07M943.02 891.07L953.21 880.88"/>
<circle cx="948.42" cy="887.66" r="4.41"/>
<path d="M941.28 889.24H955.14M948.21 882.31V896.16"/>
<path d="M941.34 890.48H955.2M948.27 883.55V897.41"/>
<path d="M942.04 891.18H955.9M948.97 884.25V898.11"/>
<path d="M941.87 892.81H955.73M948.8 885.88V899.74"/>
<path d="M943.21 888.62L953.4 898.81M943.21 898.81L953.4 888.62"/>
<circle cx="948.88" cy="895.78" r="4.41"/>
<path d="M1156.91 683.17L1167.11 693.36M1156.91 693.36L1167.11 683.17"/>
<path d="M1157.1 724.76L1167.29 734.95M1157.1 734.95L1167.29 724.76"/>
<path d="M1162.65 739.31L1168.79 749.94L1156.52 749.94Z"/>
<path d="M1155.51 749.6H1169.37M1162.44 742.67V756.53"/>
<path d="M1154.97 763.33H1168.83M1161.9 756.4V770.26"/>
<path d="M1157.69 762.34L1167.89 772.53M1157.69 772.53L1167.89 762.34"/>
<path d="M1162.01 769.27L1168.15 779.9L1155.88 779.9Z"/>
<circle cx="1162.06" cy="789.29" r="4.41"/>
<path d="M1162.57 797.63L1168.71 808.26L1156.44 808.26Z"/>
<path d="M1155.2 808.33H1169.06M1162.13 801.4V815.26"/>
<circle cx="1162.1" cy="819.25" r="4.41"/>
<circle cx="1161.87" cy="821.46" r="4.41"/>
<path d="M1156.79 826.38L1166.99 836.57M1156.79 836.57L1166.99 826.38"/>
<path d="M1155.45 831.88H1169.31M1162.38 824.95V838.81"/>
<path d="M1155.11 839.6H1168.97M1162.04 832.67V846.53"/>
<circle cx="1162.4" cy="835.89" r="4.41"/>
<path d="M1162.17 893.84L1168.31 904.47L1156.03 904.47Z"/>
<path d="M1157.16 900.75L1167.35 910.94M1157.16 910.94L1167.35 900.75"/>
<path d="M1155.83 921.28H1169.69M1162.76 914.35V928.21"/>
<circle cx="1162.28" cy="893.01" r="4.41"/>
<path d="M1155.44 887H1169.3M1162.37 880.07V893.93"/>
<path d="M1157.57 884.91L1167.76 895.1M1157.57 895.1L1167.76 884.91"/>
<path d="M1161.98 877.91L1168.12 888.54L1155.85 888.54Z"/>
<circle cx="1161.95" cy="882.99" r="4.41"/>
<path d="M1155.78 895.02H1169.64M1162.71 888.09V901.95"/>
<path d="M1155.69 842.21H1169.55M1162.62 835.28V849.14"/>
<circle cx="1162.05" cy="843.66" r="4.41"/>
<path d="M1156.89 839.83L1167.09 850.02M1156.89 850.02L1167.09 839.83"/>
<path d="M1155.61 847.1H1169.47M1162.54 840.17V854.03"/>
<path d="M1162.74 841.02L1168.88 851.65L1156.6 851.65Z"/>
<path d="M1162 842.84L1168.13 853.47L1155.86 853.47Z"/>
<path d="M1155.82 850.99H1169.68M1162.75 844.06V857.92"/>
<path d="M1155.75 853.44H1169.61M1162.68 846.51V860.37"/>
<path d="M1157.31 849.23L1167.5 859.42M1157.31 859.42L1167.5 849.23"/>
<path d="M1162.22 849.14L1168.36 859.77L1156.08 859.77Z"/>
<path d="M1154.97 858.73H1168.83M1161.9 851.81V865.66"/>
<path d="M1156.74 853.99L1166.93 864.19M1156.74 864.19L1166.93 853.99"/>
<path d="M1162.76 853.6L1168.9 864.23L1156.63 864.23Z"/>
<circle cx="1162.04" cy="863.07" r="4.41"/>
<path d="M1157.41 858.86L1167.6 869.05M1157.41 869.05L1167.6 858.86"/>
<circle cx="1162.06" cy="865.32" r="4.41"/>
<path d="M1162.62 860.07L1168.76 870.7L1156.49 870.7Z"/>
<path d="M1157.3 863.1L1167.49 873.29M1157.3 873.29L1167.49 863.1"/>
<circle cx="1162.09" cy="870.12" r="4.41"/>
<circle cx="1161.98" cy="872.16" r="4.41"/>
<path d="M1157.42 867.43L1167.62 877.62M1157.42 877.62L1167.62 867.43"/>
<path d="M1154.94 875.05H1168.8M1161.87 868.12V881.98"/>
<path d="M1155.1 876.44H1168.96M1162.03 869.51V883.37"/>
<path d="M1155.43 876.56H1169.29M1162.36 869.64V883.49"/>
<path d="M1155.72 879.28H1169.58M1162.65 872.35V886.21"/>
<path d="M1155.48 882.99H1169.34M1162.41 876.06V889.92"/>
<path d="M1162.08 879.53L1168.22 890.16L1155.94 890.16Z"/>
<path d="M1162.72 882.47L1168.85 893.1L1156.58 893.1Z"/>
<path d="M1155.07 892.13H1168.93M1162 885.2V899.06"/>
<path d="M1368.99 815.54H1382.85M1375.92 808.61V822.47"/>
<path d="M1376.17 811.66L1382.31 822.29L1370.03 822.29Z"/>
<circle cx="1376.35" cy="890.91" r="4.41"/>
<path d="M1375.96 898.45L1382.1 909.09L1369.82 909.09Z"/>
<path d="M1376.08 903.27L1382.21 913.9L1369.94 913.9Z"/>
<path d="M1371.17 911.87L1381.36 922.06M1371.17 922.06L1381.36 911.87"/>
<path d="M1371.38 916.88L1381.57 927.07M1371.38 927.07L1381.57 916.88"/>
<path d="M1369.1 938.31H1382.96M1376.03 931.38V945.24"/>
<circle cx="1376.26" cy="944.63" r="4.41"/>
<circle cx="1376.79" cy="948.54" r="4.41"/>
<path d="M1376.88 944.46L1383.02 955.09L1370.74 955.09Z"/>
<path d="M1376.56 948.26L1382.69 958.89L1370.42 958.89Z"/>
<path d="M1369.66 975.09H1383.52M1376.59 968.16V982.02"/>
<path d="M1371.39 981.52L1381.58 991.72M1371.39 991.72L1381.58 981.52"/>
<path d="M1370.94 1001.77L1381.14 1011.96M1370.94 1011.96L1381.14 1001.77"/>
<path d="M1370.84 1109.6L1381.03 1119.8M1370.84 1119.8L1381.03 1109.6"/>
<circle cx="1375.92" cy="822.91" r="4.41"/>
<path d="M1369.88 827.08H1383.74M1376.81 820.15V834.01"/>
<path d="M1376.6 822.53L1382.74 833.16L1370.46 833.16Z"/>
<path d="M1376.86 825.94L1383 836.57L1370.73 836.57Z"/>
<path d="M1375.92 829.47L1382.06 840.1L1369.78 840.1Z"/>
<path d="M1369.61 838.88H1383.47M1376.54 831.95V845.81"/>
<path d="M1376.38 835.5L1382.52 846.13L1370.24 846.13Z"/>
<circle cx="1376.63" cy="845.68" r="4.41"/>
<circle cx="1376.22" cy="849.2" r="4.41"/>
<path d="M1369.97 851.95H1383.83M1376.9 845.03V858.88"/>
<path d="M1370.88 850.36L1381.07 860.55M1370.88 860.55L1381.07 850.36"/>
<path d="M1371.35 851.91L1381.54 862.1M1371.35 862.1L1381.54 851.91"/>
<path d="M1369.71 860.83H1383.57M1376.64 853.9V867.76"/>
<path d="M1376.8 855.79L1382.94 866.42L1370.66 866.42Z"/>
<path d="M1369.71 864.15H1383.57M1376.64 857.22V871.08"/>
<path d="M1371.51 859.69L1381.7 869.88M1371.51 869.88L1381.7 859.69"/>
<path d="M1369.76 865.87H1383.62M1376.69 858.94V872.8"/>
<path d="M1376.82 860.08L1382.95 870.71L1370.68 870.71Z"/>
<path d="M1371.16 863.39L1381.35 873.58M1371.16 873.58L1381.35 863.39"/>
<path d="M1369.66 869.63H1383.51M1376.59 862.7V876.56"/>
<path d="M1371.7 864.78L1381.9 874.97M1371.7 874.97L1381.9 864.78"/>
<path d="M1376.77 863.5L1382.91 874.13L1370.63 874.13Z"/>
<path d="M1369.39 871.4H1383.25M1376.32 864.47V878.33"/>
<circle cx="1376.69" cy="872.94" r="4.41"/>
<path d="M1369.83 873.07H1383.69M1376.76 866.14V880"/>
<path d="M1376.47 867.31L1382.61 877.94L1370.34 877.94Z"/>
<path d="M1369.6 876.47H1383.45M1376.52 869.54V883.4"/>
<path d="M1371.19 872.11L1381.38 882.31M1371.19 882.31L1381.38 872.11"/>
<circle cx="1376.48" cy="878.2" r="4.41"/>
<path d="M1369.58 878.19H1383.44M1376.51 871.26V885.12"/>
<path d="M1369.05 878.87H1382.91M1375.98 871.94V885.8"/>
<path d="M1369.61 880.72H1383.47M1376.54 873.79V887.65"/>
<circle cx="1376.89" cy="881.56" r="4.41"/>
<path d="M1369.85 881.96H1383.71M1376.78 875.03V888.89"/>
<path d="M1369.7 884.24H1383.56M1376.63 877.31V891.17"/>
</g>
<path fill="none" stroke="#484848" stroke-width="1.9" d="M1246 632.3V782"/>
<path fill="none" stroke="#323232" stroke-width="1.5" d="M1245 781.3H1398.5M1245 632.3H1398.5"/>
<g fill="none" stroke="#000" stroke-width="1.75" stroke-linejoin="round" stroke-opacity="0.74">
<circle cx="1264.1" cy="682.5" r="4.41"/>
<path d="M1264.1 700.61L1270.24 711.24L1257.96 711.24Z"/>
<path d="M1257.17 732.5H1271.03M1264.1 725.57V739.43"/>
<path d="M1259 752.4L1269.2 762.6M1259 762.6L1269.2 752.4"/>
</g>
</g>
</g>
<g filter="url(#tx)">
<text transform="translate(96.7 550.4) scale(1 1.1)" text-anchor="middle" font-size="20.75">1.2</text>
<text transform="translate(181.22 550.4) scale(1 1.1)" text-anchor="middle" font-size="20.75">1.4</text>
<text transform="translate(265.74 550.4) scale(1 1.1)" text-anchor="middle" font-size="20.75">1.6</text>
<text transform="translate(350.26 550.4) scale(1 1.1)" text-anchor="middle" font-size="20.75">1.8</text>
<text transform="translate(434.78 550.4) scale(1 1.1)" text-anchor="middle" font-size="20.75">2.0</text>
<text transform="translate(519.3 550.4) scale(1 1.1)" text-anchor="middle" font-size="20.75">2.2</text>
<text transform="translate(603.82 550.4) scale(1 1.1)" text-anchor="middle" font-size="20.75">2.4</text>
<text transform="translate(66.15 427.9) rotate(-90) scale(1 1.04)" text-anchor="middle" font-size="21.3">1.4</text>
<text transform="translate(66.15 353.34) rotate(-90) scale(1 1.04)" text-anchor="middle" font-size="21.3">1.6</text>
<text transform="translate(66.15 278.78) rotate(-90) scale(1 1.04)" text-anchor="middle" font-size="21.3">1.8</text>
<text transform="translate(66.15 204.22) rotate(-90) scale(1 1.04)" text-anchor="middle" font-size="21.3">2.0</text>
<text transform="translate(66.15 129.66) rotate(-90) scale(1 1.04)" text-anchor="middle" font-size="21.3">2.2</text>
<text transform="translate(66.15 55.1) rotate(-90) scale(1 1.04)" text-anchor="middle" font-size="21.3">2.4</text>
<text transform="translate(380.97 600.7) scale(1 1.06)" text-anchor="middle" font-size="20.75">Observed Mean</text>
<text transform="translate(16.15 251.4) rotate(-90) scale(1 1.04)" text-anchor="middle" font-size="21.3">Fitted value</text>
<text transform="translate(101.75 26.6) scale(1 1)" text-anchor="start" font-size="20.65">EF Distribution</text>
<text transform="translate(129.95 60.4) scale(1 1)" text-anchor="start" font-size="20.6">Constant</text>
<text transform="translate(129.95 85.4) scale(1 1)" text-anchor="start" font-size="20.6">Normal</text>
<text transform="translate(129.95 110.4) scale(1 1)" text-anchor="start" font-size="20.6">Gradient</text>
<text transform="translate(129.95 135.4) scale(1 1)" text-anchor="start" font-size="20.6">Log-normal</text>
<text transform="translate(904.3 550.3) scale(1 1.1)" text-anchor="middle" font-size="20.75">1.4</text>
<text transform="translate(990.55 550.3) scale(1 1.1)" text-anchor="middle" font-size="20.75">1.6</text>
<text transform="translate(1076.8 550.3) scale(1 1.1)" text-anchor="middle" font-size="20.75">1.8</text>
<text transform="translate(1163.05 550.3) scale(1 1.1)" text-anchor="middle" font-size="20.75">2.0</text>
<text transform="translate(1249.3 550.3) scale(1 1.1)" text-anchor="middle" font-size="20.75">2.2</text>
<text transform="translate(1335.55 550.3) scale(1 1.1)" text-anchor="middle" font-size="20.75">2.4</text>
<text transform="translate(794.05 459.2) rotate(-90) scale(1 1.04)" text-anchor="middle" font-size="21.3">-0.04</text>
<text transform="translate(794.05 350.3) rotate(-90) scale(1 1.04)" text-anchor="middle" font-size="21.3">-0.02</text>
<text transform="translate(794.05 241.4) rotate(-90) scale(1 1.04)" text-anchor="middle" font-size="21.3">0.00</text>
<text transform="translate(794.05 132.5) rotate(-90) scale(1 1.04)" text-anchor="middle" font-size="21.3">0.02</text>
<text transform="translate(794.05 23.6) rotate(-90) scale(1 1.04)" text-anchor="middle" font-size="21.3">0.04</text>
<text transform="translate(1108.93 600.6) scale(1 1.06)" text-anchor="middle" font-size="20.75">Fitted value</text>
<text transform="translate(744.05 251.35) rotate(-90) scale(1 1.04)" text-anchor="middle" font-size="21.3">Residual</text>
<text transform="translate(1254.7 26.8) scale(1 1)" text-anchor="start" font-size="20.65">EF Distribution</text>
<text transform="translate(1282.9 60.6) scale(1 1)" text-anchor="start" font-size="20.6">Constant</text>
<text transform="translate(1282.9 85.6) scale(1 1)" text-anchor="start" font-size="20.6">Normal</text>
<text transform="translate(1282.9 110.6) scale(1 1)" text-anchor="start" font-size="20.6">Gradient</text>
<text transform="translate(1282.9 135.6) scale(1 1)" text-anchor="start" font-size="20.6">Log-normal</text>
<text transform="translate(202.3 1185.9) scale(1 1.1)" text-anchor="middle" font-size="20.75">20</text>
<text transform="translate(313.55 1185.9) scale(1 1.1)" text-anchor="middle" font-size="20.75">40</text>
<text transform="translate(424.8 1185.9) scale(1 1.1)" text-anchor="middle" font-size="20.75">60</text>
<text transform="translate(536.05 1185.9) scale(1 1.1)" text-anchor="middle" font-size="20.75">80</text>
<text transform="translate(647.3 1185.9) scale(1 1.1)" text-anchor="middle" font-size="20.75">100</text>
<text transform="translate(65.9 1094.69) rotate(-90) scale(1 1.04)" text-anchor="middle" font-size="21.3">-0.04</text>
<text transform="translate(65.9 985.67) rotate(-90) scale(1 1.04)" text-anchor="middle" font-size="21.3">-0.02</text>
<text transform="translate(65.9 876.65) rotate(-90) scale(1 1.04)" text-anchor="middle" font-size="21.3">0.00</text>
<text transform="translate(65.9 767.63) rotate(-90) scale(1 1.04)" text-anchor="middle" font-size="21.3">0.02</text>
<text transform="translate(65.9 658.61) rotate(-90) scale(1 1.04)" text-anchor="middle" font-size="21.3">0.04</text>
<text transform="translate(380.9 1236.2) scale(1 1.06)" text-anchor="middle" font-size="20.75">No Chambers</text>
<text transform="translate(15.9 886.75) rotate(-90) scale(1 1.04)" text-anchor="middle" font-size="21.3">Residual</text>
<text transform="translate(526.8 661.8) scale(1 1)" text-anchor="start" font-size="20.65">EF Distribution</text>
<text transform="translate(555 695.6) scale(1 1)" text-anchor="start" font-size="20.6">Constant</text>
<text transform="translate(555 720.6) scale(1 1)" text-anchor="start" font-size="20.6">Normal</text>
<text transform="translate(555 745.6) scale(1 1)" text-anchor="start" font-size="20.6">Gradient</text>
<text transform="translate(555 770.6) scale(1 1)" text-anchor="start" font-size="20.6">Log-normal</text>
<text transform="translate(820.05 1181.8) scale(1 1.1)" text-anchor="middle" font-size="20.75">0.02</text>
<text transform="translate(905.45 1181.8) scale(1 1.1)" text-anchor="middle" font-size="20.75">0.04</text>
<text transform="translate(990.85 1181.8) scale(1 1.1)" text-anchor="middle" font-size="20.75">0.06</text>
<text transform="translate(1076.25 1181.8) scale(1 1.1)" text-anchor="middle" font-size="20.75">0.08</text>
<text transform="translate(1161.65 1181.8) scale(1 1.1)" text-anchor="middle" font-size="20.75">0.10</text>
<text transform="translate(1247.05 1181.8) scale(1 1.1)" text-anchor="middle" font-size="20.75">0.12</text>
<text transform="translate(1332.45 1181.8) scale(1 1.1)" text-anchor="middle" font-size="20.75">0.14</text>
<text transform="translate(793.8 1090.45) rotate(-90) scale(1 1.04)" text-anchor="middle" font-size="21.3">-0.04</text>
<text transform="translate(793.8 981.31) rotate(-90) scale(1 1.04)" text-anchor="middle" font-size="21.3">-0.02</text>
<text transform="translate(793.8 872.17) rotate(-90) scale(1 1.04)" text-anchor="middle" font-size="21.3">0.00</text>
<text transform="translate(793.8 763.03) rotate(-90) scale(1 1.04)" text-anchor="middle" font-size="21.3">0.02</text>
<text transform="translate(793.8 653.89) rotate(-90) scale(1 1.04)" text-anchor="middle" font-size="21.3">0.04</text>
<text transform="translate(1108.8 1232.1) scale(1 1.06)" text-anchor="middle" font-size="20.75">Urine Coverage</text>
<text transform="translate(743.8 882.6) rotate(-90) scale(1 1.04)" text-anchor="middle" font-size="21.3">Residual</text>
<text transform="translate(1254.6 657.6) scale(1 1)" text-anchor="start" font-size="20.65">EF Distribution</text>
<text transform="translate(1282.8 691.4) scale(1 1)" text-anchor="start" font-size="20.6">Constant</text>
<text transform="translate(1282.8 716.4) scale(1 1)" text-anchor="start" font-size="20.6">Normal</text>
<text transform="translate(1282.8 741.4) scale(1 1)" text-anchor="start" font-size="20.6">Gradient</text>
<text transform="translate(1282.8 766.4) scale(1 1)" text-anchor="start" font-size="20.6">Log-normal</text>
</g>
<g filter="url(#lb)">
<text class="pl" x="0.2" y="21.5" font-size="29.6">(<tspan font-style="italic" dx="0.5">a</tspan>)</text>
<text class="pl" x="716" y="22.4" font-size="29.6">(<tspan font-style="italic" dx="0.5">b</tspan>)</text>
<text class="pl" x="0.6" y="642.7" font-size="29.6">(<tspan font-style="italic" dx="0.5">c</tspan>)</text>
<text class="pl" x="716" y="642.7" font-size="29.6">(<tspan font-style="italic" dx="0.5">d</tspan>)</text>
</g>
</svg></body></html>
